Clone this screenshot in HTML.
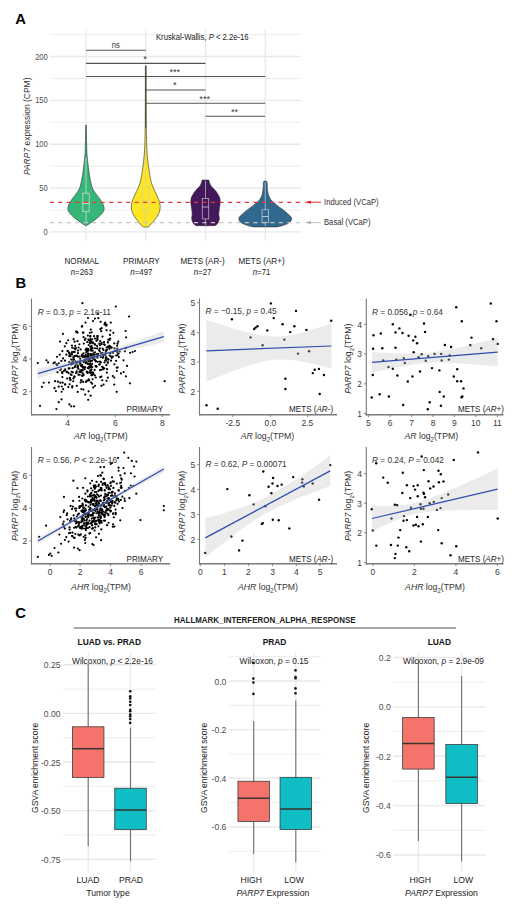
<!DOCTYPE html>
<html><head><meta charset="utf-8"><style>
html,body{margin:0;padding:0;background:#fff;width:520px;height:915px;overflow:hidden}
svg{display:block;font-family:"Liberation Sans", sans-serif}
</style></head><body>
<svg width="520" height="915" viewBox="0 0 520 915">
<rect width="520" height="915" fill="#fff"/>
<text transform="translate(15.3,23.6) scale(1,1)" font-size="14.8" fill="#000" text-anchor="start" font-weight="bold" font-style="normal" >A</text>
<text transform="translate(15.6,287.7) scale(1,1)" font-size="14.8" fill="#000" text-anchor="start" font-weight="bold" font-style="normal" >B</text>
<text transform="translate(15.3,618.3) scale(1,1)" font-size="14.8" fill="#000" text-anchor="start" font-weight="bold" font-style="normal" >C</text>
<line x1="50" y1="209.97" x2="301" y2="209.97" stroke="#e9e9e9" stroke-width="0.8" />
<line x1="50" y1="166.12" x2="301" y2="166.12" stroke="#e9e9e9" stroke-width="0.8" />
<line x1="50" y1="122.28" x2="301" y2="122.28" stroke="#e9e9e9" stroke-width="0.8" />
<line x1="50" y1="78.43" x2="301" y2="78.43" stroke="#e9e9e9" stroke-width="0.8" />
<line x1="50" y1="34.58" x2="301" y2="34.58" stroke="#e9e9e9" stroke-width="0.8" />
<line x1="50" y1="231.9" x2="301" y2="231.9" stroke="#e8e8e8" stroke-width="1.4" />
<line x1="50" y1="188.05" x2="301" y2="188.05" stroke="#e8e8e8" stroke-width="1.4" />
<line x1="50" y1="144.2" x2="301" y2="144.2" stroke="#e8e8e8" stroke-width="1.4" />
<line x1="50" y1="100.35" x2="301" y2="100.35" stroke="#e8e8e8" stroke-width="1.4" />
<line x1="50" y1="56.5" x2="301" y2="56.5" stroke="#e8e8e8" stroke-width="1.4" />
<line x1="86" y1="29.5" x2="86" y2="240.8" stroke="#e8e8e8" stroke-width="1.3" />
<line x1="145.75" y1="29.5" x2="145.75" y2="240.8" stroke="#e8e8e8" stroke-width="1.3" />
<line x1="205.5" y1="29.5" x2="205.5" y2="240.8" stroke="#e8e8e8" stroke-width="1.3" />
<line x1="265.25" y1="29.5" x2="265.25" y2="240.8" stroke="#e8e8e8" stroke-width="1.3" />
<text transform="translate(47.8,234.9) scale(1,1.12)" font-size="7.6" fill="#4d4d4d" text-anchor="end" font-weight="normal" font-style="normal" >0</text>
<text transform="translate(47.8,191.05) scale(1,1.12)" font-size="7.6" fill="#4d4d4d" text-anchor="end" font-weight="normal" font-style="normal" >50</text>
<text transform="translate(47.8,147.2) scale(1,1.12)" font-size="7.6" fill="#4d4d4d" text-anchor="end" font-weight="normal" font-style="normal" >100</text>
<text transform="translate(47.8,103.35) scale(1,1.12)" font-size="7.6" fill="#4d4d4d" text-anchor="end" font-weight="normal" font-style="normal" >150</text>
<text transform="translate(47.8,59.5) scale(1,1.12)" font-size="7.6" fill="#4d4d4d" text-anchor="end" font-weight="normal" font-style="normal" >200</text>
<text transform="translate(29.6,126.3) rotate(-90)" font-size="8.5" fill="#333" text-anchor="middle"><tspan font-style="italic">PARP7</tspan> expression (CPM)</text>
<path d="M85.7,125 L85.67,126.7 L85.64,128.41 L85.61,130.11 L85.59,131.81 L85.56,133.52 L85.53,135.22 L85.5,136.92 L85.47,138.63 L85.44,140.33 L85.4,142.03 L85.36,143.74 L85.32,145.44 L85.28,147.14 L85.24,148.85 L85.19,150.55 L85.12,152.25 L85.02,153.96 L84.88,155.66 L84.73,157.36 L84.57,159.07 L84.39,160.77 L84.2,162.47 L84,164.18 L83.79,165.88 L83.59,167.58 L83.36,169.29 L83.12,170.99 L82.87,172.69 L82.6,174.4 L82.32,176.1 L82.04,177.81 L81.74,179.51 L81.42,181.21 L81.06,182.92 L80.68,184.62 L80.23,186.32 L79.63,188.03 L78.82,189.73 L77.84,191.43 L76.7,193.14 L75.41,194.84 L74.07,196.54 L72.74,198.25 L71.51,199.95 L70.41,201.65 L69.47,203.36 L68.68,205.06 L68.1,206.76 L67.85,208.47 L68.07,210.17 L68.84,211.87 L70.07,213.58 L71.66,215.28 L73.49,216.98 L75.55,218.69 L77.82,220.39 L80.27,222.09 L82.56,223.8 L85.5,225.5 L86.5,225.5 L89.44,223.8 L91.73,222.09 L94.18,220.39 L96.45,218.69 L98.51,216.98 L100.34,215.28 L101.93,213.58 L103.16,211.87 L103.93,210.17 L104.15,208.47 L103.9,206.76 L103.32,205.06 L102.53,203.36 L101.59,201.65 L100.49,199.95 L99.26,198.25 L97.93,196.54 L96.59,194.84 L95.3,193.14 L94.16,191.43 L93.18,189.73 L92.37,188.03 L91.77,186.32 L91.32,184.62 L90.94,182.92 L90.58,181.21 L90.26,179.51 L89.96,177.81 L89.68,176.1 L89.4,174.4 L89.13,172.69 L88.88,170.99 L88.64,169.29 L88.41,167.58 L88.21,165.88 L88,164.18 L87.8,162.47 L87.61,160.77 L87.43,159.07 L87.27,157.36 L87.12,155.66 L86.98,153.96 L86.88,152.25 L86.81,150.55 L86.76,148.85 L86.72,147.14 L86.68,145.44 L86.64,143.74 L86.6,142.03 L86.56,140.33 L86.53,138.63 L86.5,136.92 L86.47,135.22 L86.44,133.52 L86.41,131.81 L86.39,130.11 L86.36,128.41 L86.33,126.7 L86.3,125Z" fill="#35b779" stroke="#2b2b2b" stroke-width="0.6" stroke-linejoin="round"/>
<path d="M145.4,65.9 L145.4,68.63 L145.39,71.36 L145.39,74.09 L145.38,76.82 L145.38,79.55 L145.38,82.28 L145.37,85.01 L145.37,87.74 L145.36,90.47 L145.36,93.21 L145.36,95.94 L145.35,98.67 L145.34,101.4 L145.32,104.13 L145.31,106.86 L145.29,109.59 L145.27,112.32 L145.26,115.05 L145.24,117.78 L145.22,120.51 L145.21,123.24 L145.19,125.97 L145.17,128.7 L145.14,131.43 L145.09,134.16 L145.03,136.89 L144.95,139.62 L144.87,142.35 L144.79,145.08 L144.69,147.82 L144.55,150.55 L144.35,153.28 L144.11,156.01 L143.85,158.74 L143.59,161.47 L143.29,164.2 L142.93,166.93 L142.53,169.66 L142.11,172.39 L141.66,175.12 L141.18,177.85 L140.61,180.58 L139.9,183.31 L138.96,186.04 L137.81,188.77 L136.5,191.5 L135.17,194.23 L133.91,196.96 L132.81,199.69 L131.92,202.43 L131.39,205.16 L131.32,207.89 L131.77,210.62 L132.71,213.35 L134.12,216.08 L135.98,218.81 L138.19,221.54 L140.35,224.27 L143.15,227 L148.35,227 L151.15,224.27 L153.31,221.54 L155.52,218.81 L157.38,216.08 L158.79,213.35 L159.73,210.62 L160.18,207.89 L160.11,205.16 L159.58,202.43 L158.69,199.69 L157.59,196.96 L156.33,194.23 L155,191.5 L153.69,188.77 L152.54,186.04 L151.6,183.31 L150.89,180.58 L150.32,177.85 L149.84,175.12 L149.39,172.39 L148.97,169.66 L148.57,166.93 L148.21,164.2 L147.91,161.47 L147.65,158.74 L147.39,156.01 L147.15,153.28 L146.95,150.55 L146.81,147.82 L146.71,145.08 L146.63,142.35 L146.55,139.62 L146.47,136.89 L146.41,134.16 L146.36,131.43 L146.33,128.7 L146.31,125.97 L146.29,123.24 L146.28,120.51 L146.26,117.78 L146.24,115.05 L146.23,112.32 L146.21,109.59 L146.19,106.86 L146.18,104.13 L146.16,101.4 L146.15,98.67 L146.14,95.94 L146.14,93.21 L146.14,90.47 L146.13,87.74 L146.13,85.01 L146.12,82.28 L146.12,79.55 L146.12,76.82 L146.11,74.09 L146.11,71.36 L146.1,68.63 L146.1,65.9Z" fill="#fde725" stroke="#2b2b2b" stroke-width="0.6" stroke-linejoin="round"/>
<path d="M202.2,180.1 L201.95,180.87 L201.74,181.65 L201.5,182.42 L201.23,183.19 L200.94,183.96 L200.62,184.74 L200.22,185.51 L199.68,186.28 L199.02,187.06 L198.27,187.83 L197.5,188.6 L196.73,189.37 L195.98,190.15 L195.28,190.92 L194.68,191.69 L194.17,192.47 L193.7,193.24 L193.25,194.01 L192.79,194.78 L192.34,195.56 L191.91,196.33 L191.53,197.1 L191.26,197.88 L191.08,198.65 L190.97,199.42 L190.88,200.19 L190.81,200.97 L190.78,201.74 L190.8,202.51 L190.87,203.29 L190.95,204.06 L191.04,204.83 L191.13,205.61 L191.25,206.38 L191.37,207.15 L191.49,207.92 L191.61,208.7 L191.72,209.47 L191.82,210.24 L191.91,211.02 L192,211.79 L192.09,212.56 L192.16,213.33 L192.19,214.11 L192.16,214.88 L192.06,215.65 L191.92,216.43 L191.78,217.2 L191.69,217.97 L191.68,218.74 L191.79,219.52 L191.99,220.29 L192.23,221.06 L192.5,221.84 L192.83,222.61 L193.28,223.38 L193.99,224.15 L194.85,224.93 L196.5,225.7 L214.5,225.7 L216.15,224.93 L217.01,224.15 L217.72,223.38 L218.17,222.61 L218.5,221.84 L218.77,221.06 L219.01,220.29 L219.21,219.52 L219.32,218.74 L219.31,217.97 L219.22,217.2 L219.08,216.43 L218.94,215.65 L218.84,214.88 L218.81,214.11 L218.84,213.33 L218.91,212.56 L219,211.79 L219.09,211.02 L219.18,210.24 L219.28,209.47 L219.39,208.7 L219.51,207.92 L219.63,207.15 L219.75,206.38 L219.87,205.61 L219.96,204.83 L220.05,204.06 L220.13,203.29 L220.2,202.51 L220.22,201.74 L220.19,200.97 L220.12,200.19 L220.03,199.42 L219.92,198.65 L219.74,197.88 L219.47,197.1 L219.09,196.33 L218.66,195.56 L218.21,194.78 L217.75,194.01 L217.3,193.24 L216.83,192.47 L216.32,191.69 L215.72,190.92 L215.02,190.15 L214.27,189.37 L213.5,188.6 L212.73,187.83 L211.98,187.06 L211.32,186.28 L210.78,185.51 L210.38,184.74 L210.06,183.96 L209.77,183.19 L209.5,182.42 L209.26,181.65 L209.05,180.87 L208.8,180.1Z" fill="#43195b" stroke="#2b2b2b" stroke-width="0.6" stroke-linejoin="round"/>
<path d="M264.25,181 L263.65,181.78 L263.43,182.56 L263.31,183.33 L263.28,184.11 L263.26,184.89 L263.24,185.67 L263.22,186.45 L263.19,187.22 L263.16,188 L263.1,188.78 L263.01,189.56 L262.9,190.34 L262.77,191.11 L262.65,191.89 L262.52,192.67 L262.4,193.45 L262.24,194.23 L262.03,195 L261.73,195.78 L261.37,196.56 L260.98,197.34 L260.59,198.12 L260.17,198.89 L259.67,199.67 L259.02,200.45 L258.24,201.23 L257.38,202.01 L256.51,202.78 L255.62,203.56 L254.72,204.34 L253.77,205.12 L252.76,205.89 L251.71,206.67 L250.64,207.45 L249.58,208.23 L248.52,209.01 L247.5,209.78 L246.52,210.56 L245.57,211.34 L244.65,212.12 L243.73,212.9 L242.82,213.67 L241.94,214.45 L241.1,215.23 L240.32,216.01 L239.62,216.79 L239.08,217.56 L238.82,218.34 L238.87,219.12 L239.13,219.9 L239.46,220.68 L239.9,221.45 L240.6,222.23 L241.72,223.01 L243.21,223.79 L245.05,224.57 L247.29,225.34 L249.67,226.12 L253.25,226.9 L277.25,226.9 L280.83,226.12 L283.21,225.34 L285.45,224.57 L287.29,223.79 L288.78,223.01 L289.9,222.23 L290.6,221.45 L291.04,220.68 L291.37,219.9 L291.63,219.12 L291.68,218.34 L291.42,217.56 L290.88,216.79 L290.18,216.01 L289.4,215.23 L288.56,214.45 L287.68,213.67 L286.77,212.9 L285.85,212.12 L284.93,211.34 L283.98,210.56 L283,209.78 L281.98,209.01 L280.92,208.23 L279.86,207.45 L278.79,206.67 L277.74,205.89 L276.73,205.12 L275.78,204.34 L274.88,203.56 L273.99,202.78 L273.12,202.01 L272.26,201.23 L271.48,200.45 L270.83,199.67 L270.33,198.89 L269.91,198.12 L269.52,197.34 L269.13,196.56 L268.77,195.78 L268.47,195 L268.26,194.23 L268.1,193.45 L267.98,192.67 L267.85,191.89 L267.73,191.11 L267.6,190.34 L267.49,189.56 L267.4,188.78 L267.34,188 L267.31,187.22 L267.28,186.45 L267.26,185.67 L267.24,184.89 L267.22,184.11 L267.19,183.33 L267.07,182.56 L266.85,181.78 L266.25,181Z" fill="#31688e" stroke="#2b2b2b" stroke-width="0.6" stroke-linejoin="round"/>
<line x1="86" y1="157.7" x2="86" y2="193.2" stroke="#cfd8d0" stroke-width="0.8" />
<line x1="86" y1="211.7" x2="86" y2="223" stroke="#cfd8d0" stroke-width="0.8" />
<rect x="82.8" y="193.2" width="6.4" height="18.5" fill="none" stroke="#cfd8d0" stroke-width="0.8"/>
<line x1="82.8" y1="203.5" x2="89.2" y2="203.5" stroke="#cfd8d0" stroke-width="1" />
<line x1="145.75" y1="150" x2="145.75" y2="186.6" stroke="#d6cf90" stroke-width="0.8" />
<line x1="145.75" y1="211.1" x2="145.75" y2="226" stroke="#d6cf90" stroke-width="0.8" />
<rect x="142.55" y="186.6" width="6.4" height="24.5" fill="none" stroke="#d6cf90" stroke-width="0.8"/>
<line x1="142.55" y1="201" x2="148.95" y2="201" stroke="#d6cf90" stroke-width="1" />
<line x1="205.5" y1="180.5" x2="205.5" y2="198.4" stroke="#b9a9c4" stroke-width="0.8" />
<line x1="205.5" y1="218.9" x2="205.5" y2="225" stroke="#b9a9c4" stroke-width="0.8" />
<rect x="202.3" y="198.4" width="6.4" height="20.5" fill="none" stroke="#b9a9c4" stroke-width="0.8"/>
<line x1="202.3" y1="207" x2="208.7" y2="207" stroke="#b9a9c4" stroke-width="1" />
<line x1="265.25" y1="182" x2="265.25" y2="209.75" stroke="#b9c6d3" stroke-width="0.8" />
<line x1="265.25" y1="222.5" x2="265.25" y2="226.5" stroke="#b9c6d3" stroke-width="0.8" />
<rect x="262.05" y="209.75" width="6.4" height="12.75" fill="none" stroke="#b9c6d3" stroke-width="0.8"/>
<line x1="262.05" y1="216.5" x2="268.45" y2="216.5" stroke="#b9c6d3" stroke-width="1" />
<line x1="49.8" y1="202.3" x2="301" y2="202.3" stroke="#ec3437" stroke-width="1.3" stroke-dasharray="4.1 4.38"/>
<line x1="49.8" y1="222.7" x2="301" y2="222.7" stroke="#c6c6c6" stroke-width="1.3" stroke-dasharray="4.1 4.38"/>
<line x1="308" y1="202.2" x2="321" y2="202.2" stroke="#ea1c24" stroke-width="0.95" />
<path d="M304,202.2 L311,200.7 L311,203.7 Z" fill="#ea1c24"/>
<line x1="308" y1="222.6" x2="321" y2="222.6" stroke="#b3b3b3" stroke-width="0.85" />
<path d="M305,222.6 L311,221.1 L311,224.1 Z" fill="#a8a8a8"/>
<text transform="translate(324,204.6) scale(1,1.12)" font-size="7.7" fill="#333" text-anchor="start" font-weight="normal" font-style="normal" >Induced (VCaP)</text>
<text transform="translate(324,225.4) scale(1,1.12)" font-size="7.7" fill="#333" text-anchor="start" font-weight="normal" font-style="normal" >Basal (VCaP)</text>
<line x1="86" y1="50.2" x2="145.75" y2="50.2" stroke="#555" stroke-width="1.1" />
<text transform="translate(115.88,48) scale(1,1.12)" font-size="7.7" fill="#333" text-anchor="middle" font-weight="normal" font-style="normal" >ns</text>
<line x1="86" y1="63.4" x2="205.5" y2="63.4" stroke="#555" stroke-width="1.1" />
<text transform="translate(144.95,61.9) scale(1,1.0)" font-size="9.2" fill="#333" text-anchor="middle" font-weight="normal" font-style="normal" >*</text>
<line x1="86" y1="76.5" x2="265.25" y2="76.5" stroke="#555" stroke-width="1.1" />
<text transform="translate(174.82,74.9) scale(1,1.0)" font-size="9.2" fill="#333" text-anchor="middle" font-weight="normal" font-style="normal" >***</text>
<line x1="145.75" y1="90" x2="205.5" y2="90" stroke="#555" stroke-width="1.1" />
<text transform="translate(174.82,88.4) scale(1,1.0)" font-size="9.2" fill="#333" text-anchor="middle" font-weight="normal" font-style="normal" >*</text>
<line x1="145.75" y1="103.2" x2="265.25" y2="103.2" stroke="#555" stroke-width="1.1" />
<text transform="translate(204.7,101.6) scale(1,1.0)" font-size="9.2" fill="#333" text-anchor="middle" font-weight="normal" font-style="normal" >***</text>
<line x1="205.5" y1="116.3" x2="265.25" y2="116.3" stroke="#555" stroke-width="1.1" />
<text transform="translate(234.57,114.7) scale(1,1.0)" font-size="9.2" fill="#333" text-anchor="middle" font-weight="normal" font-style="normal" >**</text>
<line x1="145.75" y1="65.9" x2="145.75" y2="128" stroke="#3a3a3a" stroke-width="0.8" />
<text transform="translate(156,40.2) scale(1,1.12)" font-size="7.7" fill="#222" text-anchor="start" font-weight="normal" font-style="normal" >Kruskal-Wallis, <tspan font-style="italic">P</tspan> &lt; 2.2e-16</text>
<text transform="translate(81.8,264.4) scale(1,1.12)" font-size="8.1" fill="#222" text-anchor="middle" font-weight="normal" font-style="normal" >NORMAL</text>
<text transform="translate(81.8,274.8) scale(1,1.12)" font-size="7.9" fill="#222" text-anchor="middle" font-weight="normal" font-style="normal" ><tspan font-style="italic">n</tspan>=263</text>
<text transform="translate(141.4,264.4) scale(1,1.12)" font-size="8.1" fill="#222" text-anchor="middle" font-weight="normal" font-style="normal" >PRIMARY</text>
<text transform="translate(141.4,274.8) scale(1,1.12)" font-size="7.9" fill="#222" text-anchor="middle" font-weight="normal" font-style="normal" ><tspan font-style="italic">n</tspan>=497</text>
<text transform="translate(202.6,264.4) scale(1,1.12)" font-size="8.1" fill="#222" text-anchor="middle" font-weight="normal" font-style="normal" >METS (AR-)</text>
<text transform="translate(202.6,274.8) scale(1,1.12)" font-size="7.9" fill="#222" text-anchor="middle" font-weight="normal" font-style="normal" ><tspan font-style="italic">n</tspan>=27</text>
<text transform="translate(261.6,264.4) scale(1,1.12)" font-size="8.1" fill="#222" text-anchor="middle" font-weight="normal" font-style="normal" >METS (AR+)</text>
<text transform="translate(261.6,274.8) scale(1,1.12)" font-size="7.9" fill="#222" text-anchor="middle" font-weight="normal" font-style="normal" ><tspan font-style="italic">n</tspan>=71</text>
<g fill="#000"><circle cx="91.37" cy="369.27" r="1.1"/><circle cx="96.48" cy="366.51" r="1.1"/><circle cx="86.64" cy="350.23" r="1.1"/><circle cx="76.06" cy="373.02" r="1.1"/><circle cx="83.54" cy="353.36" r="1.1"/><circle cx="74.32" cy="376.7" r="1.1"/><circle cx="92.38" cy="374.92" r="1.1"/><circle cx="114.36" cy="377.61" r="1.1"/><circle cx="82.9" cy="332.56" r="1.1"/><circle cx="80.7" cy="365.26" r="1.1"/><circle cx="99.76" cy="351.36" r="1.1"/><circle cx="97.48" cy="356.07" r="1.1"/><circle cx="93.16" cy="354.53" r="1.1"/><circle cx="75.37" cy="361.39" r="1.1"/><circle cx="90.85" cy="329.53" r="1.1"/><circle cx="103.29" cy="369.17" r="1.1"/><circle cx="68.27" cy="387.09" r="1.1"/><circle cx="83.49" cy="374.6" r="1.1"/><circle cx="58.7" cy="386.64" r="1.1"/><circle cx="69.21" cy="352.96" r="1.1"/><circle cx="59.72" cy="354.67" r="1.1"/><circle cx="87.31" cy="372.73" r="1.1"/><circle cx="69.59" cy="384.25" r="1.1"/><circle cx="96.01" cy="361.26" r="1.1"/><circle cx="94.04" cy="336.19" r="1.1"/><circle cx="88.14" cy="399.79" r="1.1"/><circle cx="48.13" cy="362.4" r="1.1"/><circle cx="82.1" cy="375.95" r="1.1"/><circle cx="90.52" cy="342.38" r="1.1"/><circle cx="93.3" cy="372.68" r="1.1"/><circle cx="65.07" cy="369.34" r="1.1"/><circle cx="83.15" cy="381.96" r="1.1"/><circle cx="74.55" cy="376.72" r="1.1"/><circle cx="77.46" cy="341.14" r="1.1"/><circle cx="109.57" cy="340" r="1.1"/><circle cx="77.48" cy="367.4" r="1.1"/><circle cx="90.79" cy="370.37" r="1.1"/><circle cx="106.54" cy="380.77" r="1.1"/><circle cx="81.33" cy="366.15" r="1.1"/><circle cx="89.43" cy="358.44" r="1.1"/><circle cx="93.25" cy="358.09" r="1.1"/><circle cx="92.45" cy="358.47" r="1.1"/><circle cx="70.31" cy="380.09" r="1.1"/><circle cx="92.66" cy="358.01" r="1.1"/><circle cx="114.68" cy="351.12" r="1.1"/><circle cx="64.78" cy="346.28" r="1.1"/><circle cx="106.11" cy="325.65" r="1.1"/><circle cx="93.4" cy="358.83" r="1.1"/><circle cx="80.33" cy="371.92" r="1.1"/><circle cx="125.7" cy="348.26" r="1.1"/><circle cx="104.44" cy="362.49" r="1.1"/><circle cx="70.76" cy="374.39" r="1.1"/><circle cx="92.63" cy="357.9" r="1.1"/><circle cx="101.25" cy="369.83" r="1.1"/><circle cx="88.11" cy="349.47" r="1.1"/><circle cx="103.08" cy="355.49" r="1.1"/><circle cx="90.21" cy="354.08" r="1.1"/><circle cx="102.81" cy="356.73" r="1.1"/><circle cx="116.05" cy="360.83" r="1.1"/><circle cx="79.75" cy="374.76" r="1.1"/><circle cx="94.84" cy="359.88" r="1.1"/><circle cx="83.39" cy="367.82" r="1.1"/><circle cx="93.54" cy="353.34" r="1.1"/><circle cx="70.96" cy="363.48" r="1.1"/><circle cx="81.4" cy="380.36" r="1.1"/><circle cx="87.98" cy="357.42" r="1.1"/><circle cx="106.78" cy="372.6" r="1.1"/><circle cx="111.02" cy="360.69" r="1.1"/><circle cx="68.62" cy="368.43" r="1.1"/><circle cx="77.7" cy="391.92" r="1.1"/><circle cx="102.46" cy="352.8" r="1.1"/><circle cx="57.14" cy="365.27" r="1.1"/><circle cx="83.4" cy="362.08" r="1.1"/><circle cx="89.68" cy="364.14" r="1.1"/><circle cx="112.94" cy="356.55" r="1.1"/><circle cx="103.19" cy="368.28" r="1.1"/><circle cx="85.73" cy="363.03" r="1.1"/><circle cx="85.02" cy="367.4" r="1.1"/><circle cx="87.05" cy="357.33" r="1.1"/><circle cx="117.51" cy="367.41" r="1.1"/><circle cx="84" cy="356.12" r="1.1"/><circle cx="86.14" cy="356.85" r="1.1"/><circle cx="97.4" cy="357.72" r="1.1"/><circle cx="89.28" cy="364.48" r="1.1"/><circle cx="87.96" cy="350.3" r="1.1"/><circle cx="72.22" cy="387.51" r="1.1"/><circle cx="91.15" cy="350.71" r="1.1"/><circle cx="83.73" cy="356.09" r="1.1"/><circle cx="111.37" cy="347.36" r="1.1"/><circle cx="102.56" cy="348.48" r="1.1"/><circle cx="90.94" cy="367.14" r="1.1"/><circle cx="102.83" cy="357.85" r="1.1"/><circle cx="85.51" cy="349.78" r="1.1"/><circle cx="109.42" cy="345.77" r="1.1"/><circle cx="91.26" cy="354.41" r="1.1"/><circle cx="101.37" cy="376.72" r="1.1"/><circle cx="69.18" cy="356.04" r="1.1"/><circle cx="97.3" cy="338.48" r="1.1"/><circle cx="62.36" cy="351.12" r="1.1"/><circle cx="56.4" cy="364.27" r="1.1"/><circle cx="86.12" cy="381.84" r="1.1"/><circle cx="75.9" cy="348.12" r="1.1"/><circle cx="94.17" cy="358.75" r="1.1"/><circle cx="129.9" cy="383.28" r="1.1"/><circle cx="77.07" cy="356.08" r="1.1"/><circle cx="80.64" cy="382.49" r="1.1"/><circle cx="94.88" cy="375.43" r="1.1"/><circle cx="99.82" cy="364.25" r="1.1"/><circle cx="88.32" cy="339.61" r="1.1"/><circle cx="87.81" cy="363.91" r="1.1"/><circle cx="103.41" cy="349.89" r="1.1"/><circle cx="100.28" cy="329.11" r="1.1"/><circle cx="73.6" cy="339.22" r="1.1"/><circle cx="89.99" cy="359.34" r="1.1"/><circle cx="91.96" cy="360.79" r="1.1"/><circle cx="73.24" cy="381.27" r="1.1"/><circle cx="95.81" cy="366.31" r="1.1"/><circle cx="76.62" cy="355.5" r="1.1"/><circle cx="108.04" cy="346.69" r="1.1"/><circle cx="94.66" cy="354.82" r="1.1"/><circle cx="92.88" cy="342.35" r="1.1"/><circle cx="81.2" cy="371.75" r="1.1"/><circle cx="89.31" cy="358.84" r="1.1"/><circle cx="57.04" cy="356.77" r="1.1"/><circle cx="71.92" cy="354.55" r="1.1"/><circle cx="97.58" cy="339.85" r="1.1"/><circle cx="54.8" cy="362.34" r="1.1"/><circle cx="105.89" cy="357.68" r="1.1"/><circle cx="61.37" cy="360.92" r="1.1"/><circle cx="104.34" cy="368.32" r="1.1"/><circle cx="76.83" cy="385.78" r="1.1"/><circle cx="104.73" cy="344.95" r="1.1"/><circle cx="93.6" cy="357.57" r="1.1"/><circle cx="64.96" cy="360.65" r="1.1"/><circle cx="112.8" cy="376.05" r="1.1"/><circle cx="116.11" cy="355.5" r="1.1"/><circle cx="90.22" cy="366.56" r="1.1"/><circle cx="86.65" cy="371.5" r="1.1"/><circle cx="88.6" cy="391.36" r="1.1"/><circle cx="74.6" cy="367.27" r="1.1"/><circle cx="110.21" cy="338.68" r="1.1"/><circle cx="82.03" cy="354.56" r="1.1"/><circle cx="90.47" cy="366.51" r="1.1"/><circle cx="77.73" cy="361.65" r="1.1"/><circle cx="80.6" cy="349.46" r="1.1"/><circle cx="69.41" cy="404.43" r="1.1"/><circle cx="112.94" cy="352.89" r="1.1"/><circle cx="88.7" cy="350.22" r="1.1"/><circle cx="107.94" cy="342.51" r="1.1"/><circle cx="91.58" cy="332.36" r="1.1"/><circle cx="79.43" cy="344.25" r="1.1"/><circle cx="85.74" cy="354.48" r="1.1"/><circle cx="81.73" cy="355.81" r="1.1"/><circle cx="91.49" cy="345.82" r="1.1"/><circle cx="84.91" cy="367.24" r="1.1"/><circle cx="86.2" cy="359.52" r="1.1"/><circle cx="67.68" cy="351.07" r="1.1"/><circle cx="77.49" cy="332.74" r="1.1"/><circle cx="119.75" cy="351.4" r="1.1"/><circle cx="79.82" cy="361.52" r="1.1"/><circle cx="73.25" cy="359.83" r="1.1"/><circle cx="97.14" cy="335.98" r="1.1"/><circle cx="115.52" cy="350.75" r="1.1"/><circle cx="66.38" cy="343.18" r="1.1"/><circle cx="87.77" cy="372.67" r="1.1"/><circle cx="80.5" cy="363.35" r="1.1"/><circle cx="61.11" cy="369.23" r="1.1"/><circle cx="103.97" cy="342.15" r="1.1"/><circle cx="90.95" cy="342.18" r="1.1"/><circle cx="92.58" cy="379.23" r="1.1"/><circle cx="78.43" cy="374.67" r="1.1"/><circle cx="99.16" cy="350.17" r="1.1"/><circle cx="82.09" cy="369.82" r="1.1"/><circle cx="88.9" cy="380.51" r="1.1"/><circle cx="72.32" cy="347.76" r="1.1"/><circle cx="70.47" cy="356.31" r="1.1"/><circle cx="114.28" cy="343.42" r="1.1"/><circle cx="82.64" cy="366.97" r="1.1"/><circle cx="96.36" cy="340.83" r="1.1"/><circle cx="90.77" cy="361.11" r="1.1"/><circle cx="83.77" cy="343.54" r="1.1"/><circle cx="82.63" cy="373.38" r="1.1"/><circle cx="102.17" cy="366.78" r="1.1"/><circle cx="86.17" cy="355.94" r="1.1"/><circle cx="88.75" cy="368.5" r="1.1"/><circle cx="91.73" cy="347.38" r="1.1"/><circle cx="111.55" cy="347.65" r="1.1"/><circle cx="103.04" cy="367.54" r="1.1"/><circle cx="97.92" cy="354.41" r="1.1"/><circle cx="81.67" cy="365.43" r="1.1"/><circle cx="67.62" cy="350.95" r="1.1"/><circle cx="107.66" cy="361.91" r="1.1"/><circle cx="107.95" cy="358.99" r="1.1"/><circle cx="88.93" cy="340.33" r="1.1"/><circle cx="100.66" cy="321.79" r="1.1"/><circle cx="104.77" cy="324.1" r="1.1"/><circle cx="105.62" cy="352.29" r="1.1"/><circle cx="107.17" cy="349.55" r="1.1"/><circle cx="83.53" cy="337.19" r="1.1"/><circle cx="117.37" cy="351.59" r="1.1"/><circle cx="69.94" cy="378.06" r="1.1"/><circle cx="106.15" cy="351.34" r="1.1"/><circle cx="99.83" cy="348.29" r="1.1"/><circle cx="106.35" cy="365.18" r="1.1"/><circle cx="123.62" cy="372.11" r="1.1"/><circle cx="116.84" cy="371.02" r="1.1"/><circle cx="71.69" cy="353.43" r="1.1"/><circle cx="62.35" cy="377.09" r="1.1"/><circle cx="105.38" cy="355.37" r="1.1"/><circle cx="73.92" cy="359.42" r="1.1"/><circle cx="91.14" cy="348.38" r="1.1"/><circle cx="105.77" cy="358.09" r="1.1"/><circle cx="63.12" cy="358.4" r="1.1"/><circle cx="55.12" cy="381.16" r="1.1"/><circle cx="95.8" cy="361.42" r="1.1"/><circle cx="92.11" cy="372.24" r="1.1"/><circle cx="87.13" cy="342.03" r="1.1"/><circle cx="92.01" cy="357.62" r="1.1"/><circle cx="76.57" cy="372.63" r="1.1"/><circle cx="65.36" cy="370.24" r="1.1"/><circle cx="88.49" cy="361.52" r="1.1"/><circle cx="74.66" cy="352.04" r="1.1"/><circle cx="63.13" cy="389.17" r="1.1"/><circle cx="100.03" cy="370.1" r="1.1"/><circle cx="90.3" cy="363.28" r="1.1"/><circle cx="98.33" cy="318.16" r="1.1"/><circle cx="74.36" cy="348.38" r="1.1"/><circle cx="80.05" cy="362.38" r="1.1"/><circle cx="74.19" cy="352.01" r="1.1"/><circle cx="76.12" cy="331.67" r="1.1"/><circle cx="94.71" cy="359.86" r="1.1"/><circle cx="77.9" cy="366.76" r="1.1"/><circle cx="97.46" cy="337.81" r="1.1"/><circle cx="97.18" cy="348.44" r="1.1"/><circle cx="126.13" cy="337.32" r="1.1"/><circle cx="67.43" cy="371.92" r="1.1"/><circle cx="106.6" cy="324.66" r="1.1"/><circle cx="89.81" cy="332.75" r="1.1"/><circle cx="91.11" cy="349.17" r="1.1"/><circle cx="66.45" cy="354.69" r="1.1"/><circle cx="83.45" cy="389.53" r="1.1"/><circle cx="104.11" cy="344.29" r="1.1"/><circle cx="89.93" cy="360.69" r="1.1"/><circle cx="92.74" cy="350.63" r="1.1"/><circle cx="86.36" cy="348.86" r="1.1"/><circle cx="111.18" cy="356.6" r="1.1"/><circle cx="90.98" cy="382.36" r="1.1"/><circle cx="53.56" cy="363.13" r="1.1"/><circle cx="79.47" cy="371.81" r="1.1"/><circle cx="57.54" cy="372.22" r="1.1"/><circle cx="43.65" cy="382.73" r="1.1"/><circle cx="82.25" cy="365.12" r="1.1"/><circle cx="114.25" cy="384.61" r="1.1"/><circle cx="92.16" cy="339.3" r="1.1"/><circle cx="71.22" cy="359.62" r="1.1"/><circle cx="75.2" cy="345.84" r="1.1"/><circle cx="110.76" cy="322.61" r="1.1"/><circle cx="94.06" cy="356.29" r="1.1"/><circle cx="92.17" cy="383.66" r="1.1"/><circle cx="90.43" cy="370.82" r="1.1"/><circle cx="92.01" cy="374.96" r="1.1"/><circle cx="105.18" cy="360.72" r="1.1"/><circle cx="100.84" cy="353.45" r="1.1"/><circle cx="95.05" cy="385.74" r="1.1"/><circle cx="73.44" cy="357.66" r="1.1"/><circle cx="100.13" cy="377.03" r="1.1"/><circle cx="79.6" cy="356.51" r="1.1"/><circle cx="110.13" cy="353.5" r="1.1"/><circle cx="69.52" cy="368.45" r="1.1"/><circle cx="88.99" cy="359.19" r="1.1"/><circle cx="91.22" cy="365.39" r="1.1"/><circle cx="68.6" cy="373.11" r="1.1"/><circle cx="120.92" cy="373.44" r="1.1"/><circle cx="116.43" cy="350.47" r="1.1"/><circle cx="83.39" cy="332.65" r="1.1"/><circle cx="104.6" cy="324.42" r="1.1"/><circle cx="97.85" cy="336.08" r="1.1"/><circle cx="46.47" cy="360.26" r="1.1"/><circle cx="95.65" cy="366.09" r="1.1"/><circle cx="90.3" cy="336.53" r="1.1"/><circle cx="92.78" cy="357.82" r="1.1"/><circle cx="72.86" cy="363.87" r="1.1"/><circle cx="86.72" cy="363.06" r="1.1"/><circle cx="88.29" cy="356.97" r="1.1"/><circle cx="111.75" cy="357.81" r="1.1"/><circle cx="97.09" cy="356.96" r="1.1"/><circle cx="91.25" cy="373.38" r="1.1"/><circle cx="117.61" cy="355.18" r="1.1"/><circle cx="81.82" cy="326.72" r="1.1"/><circle cx="84.66" cy="360.41" r="1.1"/><circle cx="60.15" cy="370.11" r="1.1"/><circle cx="118.29" cy="341.66" r="1.1"/><circle cx="107.91" cy="342.14" r="1.1"/><circle cx="107.09" cy="369.15" r="1.1"/><circle cx="102.84" cy="357.08" r="1.1"/><circle cx="93.24" cy="343.37" r="1.1"/><circle cx="95.05" cy="352.36" r="1.1"/><circle cx="87.02" cy="356.9" r="1.1"/><circle cx="87.85" cy="335.61" r="1.1"/><circle cx="92.28" cy="367.1" r="1.1"/><circle cx="117.31" cy="348.56" r="1.1"/><circle cx="100.89" cy="362.25" r="1.1"/><circle cx="90.35" cy="335.82" r="1.1"/><circle cx="81.4" cy="389.02" r="1.1"/><circle cx="80.45" cy="370.47" r="1.1"/><circle cx="118.87" cy="357.09" r="1.1"/><circle cx="100.05" cy="345.11" r="1.1"/><circle cx="92.51" cy="348.17" r="1.1"/><circle cx="85.41" cy="338.67" r="1.1"/><circle cx="72.31" cy="386.15" r="1.1"/><circle cx="90.2" cy="346.73" r="1.1"/><circle cx="106.35" cy="357.31" r="1.1"/><circle cx="84.61" cy="369.18" r="1.1"/><circle cx="87.45" cy="350.64" r="1.1"/><circle cx="87.55" cy="372.05" r="1.1"/><circle cx="93.23" cy="387.38" r="1.1"/><circle cx="63.99" cy="370.91" r="1.1"/><circle cx="87.31" cy="380.61" r="1.1"/><circle cx="76.68" cy="371.27" r="1.1"/><circle cx="106.54" cy="347.49" r="1.1"/><circle cx="78.12" cy="356.73" r="1.1"/><circle cx="101.26" cy="331.19" r="1.1"/><circle cx="117.53" cy="352.65" r="1.1"/><circle cx="85.96" cy="381.53" r="1.1"/><circle cx="81.02" cy="371.57" r="1.1"/><circle cx="94.64" cy="369.96" r="1.1"/><circle cx="91.32" cy="375.32" r="1.1"/><circle cx="74.29" cy="356.04" r="1.1"/><circle cx="99.26" cy="364.57" r="1.1"/><circle cx="125.96" cy="376.28" r="1.1"/><circle cx="86.92" cy="348.48" r="1.1"/><circle cx="87.87" cy="360.08" r="1.1"/><circle cx="73.41" cy="357.46" r="1.1"/><circle cx="96.83" cy="354.25" r="1.1"/><circle cx="69.94" cy="354.44" r="1.1"/><circle cx="72.34" cy="362.45" r="1.1"/><circle cx="113.32" cy="332.79" r="1.1"/><circle cx="75.8" cy="355.75" r="1.1"/><circle cx="109.92" cy="346.19" r="1.1"/><circle cx="117.53" cy="343.69" r="1.1"/><circle cx="95.8" cy="377.51" r="1.1"/><circle cx="100.85" cy="357.04" r="1.1"/><circle cx="124.87" cy="351.36" r="1.1"/><circle cx="87.97" cy="355.36" r="1.1"/><circle cx="81.17" cy="380.38" r="1.1"/><circle cx="68.11" cy="340.25" r="1.1"/><circle cx="92.07" cy="355.67" r="1.1"/><circle cx="116.75" cy="367.74" r="1.1"/><circle cx="107.83" cy="377.68" r="1.1"/><circle cx="75.17" cy="366.31" r="1.1"/><circle cx="76.66" cy="363.06" r="1.1"/><circle cx="82.69" cy="370.52" r="1.1"/><circle cx="96.37" cy="354.59" r="1.1"/><circle cx="87.82" cy="367.88" r="1.1"/><circle cx="95.03" cy="348.23" r="1.1"/><circle cx="96.45" cy="366.56" r="1.1"/><circle cx="86.22" cy="359.49" r="1.1"/><circle cx="90.66" cy="343.24" r="1.1"/><circle cx="94.9" cy="318.59" r="1.1"/><circle cx="89.91" cy="372.65" r="1.1"/><circle cx="100" cy="361.7" r="1.1"/><circle cx="123.48" cy="360.3" r="1.1"/><circle cx="101.52" cy="342.9" r="1.1"/><circle cx="92.31" cy="374" r="1.1"/><circle cx="62.4" cy="373.06" r="1.1"/><circle cx="98.01" cy="355.89" r="1.1"/><circle cx="57.92" cy="381.64" r="1.1"/><circle cx="67.15" cy="378.6" r="1.1"/><circle cx="106.03" cy="360.09" r="1.1"/><circle cx="103.48" cy="384.71" r="1.1"/><circle cx="88.78" cy="379.41" r="1.1"/><circle cx="61.99" cy="372.13" r="1.1"/><circle cx="84.97" cy="357.12" r="1.1"/><circle cx="79.69" cy="363.58" r="1.1"/><circle cx="102.29" cy="380.26" r="1.1"/><circle cx="130.12" cy="352.82" r="1.1"/><circle cx="95.08" cy="344.59" r="1.1"/><circle cx="77.97" cy="353.19" r="1.1"/><circle cx="71.25" cy="364.49" r="1.1"/><circle cx="90.39" cy="370.74" r="1.1"/><circle cx="88.31" cy="349.04" r="1.1"/><circle cx="71.58" cy="371.74" r="1.1"/><circle cx="93.35" cy="374.01" r="1.1"/><circle cx="71.59" cy="375.02" r="1.1"/><circle cx="110.45" cy="330.52" r="1.1"/><circle cx="109.6" cy="348.81" r="1.1"/><circle cx="109.98" cy="334.9" r="1.1"/><circle cx="83.21" cy="366.86" r="1.1"/><circle cx="100.19" cy="341.03" r="1.1"/><circle cx="89.08" cy="366.92" r="1.1"/><circle cx="84.67" cy="361.7" r="1.1"/><circle cx="85.53" cy="322.6" r="1.1"/><circle cx="69.03" cy="352.72" r="1.1"/><circle cx="66.56" cy="372.08" r="1.1"/><circle cx="104.99" cy="354.65" r="1.1"/><circle cx="88.07" cy="353.59" r="1.1"/><circle cx="95.07" cy="338.54" r="1.1"/><circle cx="108.55" cy="359.54" r="1.1"/><circle cx="61.59" cy="391.76" r="1.1"/><circle cx="77.88" cy="365.49" r="1.1"/><circle cx="94.36" cy="356.31" r="1.1"/><circle cx="98.08" cy="353.83" r="1.1"/><circle cx="84.87" cy="339.98" r="1.1"/><circle cx="109.02" cy="347.56" r="1.1"/><circle cx="94.96" cy="344.41" r="1.1"/><circle cx="70.51" cy="379.73" r="1.1"/><circle cx="75.37" cy="349.37" r="1.1"/><circle cx="105.18" cy="322.55" r="1.1"/><circle cx="99.31" cy="343.72" r="1.1"/><circle cx="58.74" cy="363.29" r="1.1"/><circle cx="114.49" cy="348.34" r="1.1"/><circle cx="101.62" cy="328.14" r="1.1"/><circle cx="114.42" cy="364.25" r="1.1"/><circle cx="84.76" cy="360.99" r="1.1"/><circle cx="86.27" cy="352.15" r="1.1"/><circle cx="72.01" cy="352.18" r="1.1"/><circle cx="134.91" cy="351.02" r="1.1"/><circle cx="88.34" cy="353.79" r="1.1"/><circle cx="118.61" cy="353.48" r="1.1"/><circle cx="80.23" cy="358.92" r="1.1"/><circle cx="94.16" cy="358.53" r="1.1"/><circle cx="62.65" cy="382.64" r="1.1"/><circle cx="84.78" cy="359.66" r="1.1"/><circle cx="108.24" cy="339.56" r="1.1"/><circle cx="69.86" cy="377.95" r="1.1"/><circle cx="109.76" cy="355.54" r="1.1"/><circle cx="97.14" cy="345.95" r="1.1"/><circle cx="73.42" cy="378.41" r="1.1"/><circle cx="82.74" cy="357.27" r="1.1"/><circle cx="83.47" cy="375.31" r="1.1"/><circle cx="90.5" cy="341" r="1.1"/><circle cx="82.14" cy="326.15" r="1.1"/><circle cx="77.14" cy="331.89" r="1.1"/><circle cx="86.12" cy="362.18" r="1.1"/><circle cx="73.72" cy="351.73" r="1.1"/><circle cx="69.21" cy="362.16" r="1.1"/><circle cx="90.52" cy="356.16" r="1.1"/><circle cx="106.51" cy="330.21" r="1.1"/><circle cx="65.09" cy="384.53" r="1.1"/><circle cx="91.41" cy="341.89" r="1.1"/><circle cx="80.19" cy="361.42" r="1.1"/><circle cx="74.57" cy="341.66" r="1.1"/><circle cx="106.01" cy="350.35" r="1.1"/><circle cx="82.45" cy="369.92" r="1.1"/><circle cx="117.08" cy="345.77" r="1.1"/><circle cx="77.96" cy="350.55" r="1.1"/><circle cx="97.99" cy="354.94" r="1.1"/><circle cx="87.45" cy="351.4" r="1.1"/><circle cx="78.4" cy="368.89" r="1.1"/><circle cx="101.44" cy="385.8" r="1.1"/><circle cx="88.69" cy="344.98" r="1.1"/><circle cx="101.71" cy="344.1" r="1.1"/><circle cx="90.54" cy="355.48" r="1.1"/><circle cx="72.7" cy="361.9" r="1.1"/><circle cx="89.6" cy="342.71" r="1.1"/><circle cx="92.24" cy="363.87" r="1.1"/><circle cx="107.81" cy="362.95" r="1.1"/><circle cx="75.79" cy="364.77" r="1.1"/><circle cx="90.67" cy="340.15" r="1.1"/><circle cx="61.78" cy="386.5" r="1.1"/><circle cx="102.54" cy="336.61" r="1.1"/><circle cx="72.78" cy="372.28" r="1.1"/><circle cx="60.33" cy="382.72" r="1.1"/><circle cx="90.33" cy="339.2" r="1.1"/><circle cx="110.34" cy="353.25" r="1.1"/><circle cx="65.17" cy="384.23" r="1.1"/><circle cx="72.67" cy="368.19" r="1.1"/><circle cx="78.59" cy="347.49" r="1.1"/><circle cx="71.95" cy="345.61" r="1.1"/><circle cx="97.87" cy="361.77" r="1.1"/><circle cx="37.8" cy="363.1" r="1.1"/><circle cx="41.9" cy="386.8" r="1.1"/><circle cx="40" cy="405.8" r="1.1"/><circle cx="56.4" cy="409.1" r="1.1"/><circle cx="71.2" cy="406.3" r="1.1"/><circle cx="74" cy="406.3" r="1.1"/><circle cx="164.6" cy="381.2" r="1.1"/><circle cx="82.4" cy="303.2" r="1.1"/><circle cx="115.8" cy="306.5" r="1.1"/><circle cx="129" cy="316.5" r="1.1"/><circle cx="62.9" cy="333.8" r="1.1"/><circle cx="60.1" cy="341.6" r="1.1"/><circle cx="125.6" cy="331" r="1.1"/><circle cx="132.6" cy="352" r="1.1"/><circle cx="127" cy="365.9" r="1.1"/><circle cx="116.7" cy="391.8" r="1.1"/><circle cx="90.7" cy="395.7" r="1.1"/><circle cx="85.2" cy="394.6" r="1.1"/><circle cx="54.5" cy="388.2" r="1.1"/><circle cx="55.9" cy="391" r="1.1"/><circle cx="48.9" cy="382.6" r="1.1"/><circle cx="61.5" cy="399.4" r="1.1"/><circle cx="58.7" cy="402.2" r="1.1"/><circle cx="88" cy="318" r="1.1"/><circle cx="93" cy="321" r="1.1"/><circle cx="98" cy="314" r="1.1"/></g>
<path d="M37.8,368.5 L41.03,367.82 L44.26,367.13 L47.49,366.44 L50.72,365.75 L53.95,365.05 L57.18,364.34 L60.42,363.63 L63.65,362.91 L66.88,362.18 L70.11,361.44 L73.34,360.68 L76.57,359.9 L79.8,359.09 L83.03,358.26 L86.26,357.39 L89.49,356.47 L92.72,355.52 L95.95,354.55 L99.18,353.54 L102.42,352.51 L105.65,351.46 L108.88,350.39 L112.11,349.31 L115.34,348.21 L118.57,347.1 L121.8,345.98 L125.03,344.86 L128.26,343.72 L131.49,342.58 L134.72,341.44 L137.95,340.29 L141.18,339.14 L144.42,337.98 L147.65,336.82 L150.88,335.66 L154.11,334.5 L157.34,333.33 L160.57,332.17 L163.8,331 L163.8,342.2 L160.57,342.94 L157.34,343.67 L154.11,344.41 L150.88,345.15 L147.65,345.89 L144.42,346.64 L141.18,347.38 L137.95,348.13 L134.72,348.89 L131.49,349.64 L128.26,350.41 L125.03,351.17 L121.8,351.95 L118.57,352.73 L115.34,353.53 L112.11,354.33 L108.88,355.15 L105.65,355.98 L102.42,356.84 L99.18,357.71 L95.95,358.61 L92.72,359.53 L89.49,360.48 L86.26,361.48 L83.03,362.51 L79.8,363.57 L76.57,364.67 L73.34,365.79 L70.11,366.94 L66.88,368.09 L63.65,369.27 L60.42,370.45 L57.18,371.64 L53.95,372.84 L50.72,374.04 L47.49,375.25 L44.26,376.46 L41.03,377.68 L37.8,378.9Z" fill="#c6c6c6" fill-opacity="0.35"/>
<line x1="37.8" y1="373.7" x2="163.8" y2="336.6" stroke="#2f4dae" stroke-width="1.25" />
<line x1="31.5" y1="298.5" x2="31.5" y2="415.4" stroke="#777" stroke-width="1.1" />
<line x1="31" y1="414.8" x2="170" y2="414.8" stroke="#7a7a7a" stroke-width="1.4" />
<line x1="29.2" y1="391.7" x2="31.5" y2="391.7" stroke="#7a7a7a" stroke-width="0.9" />
<text transform="translate(27.2,395) scale(1,1.12)" font-size="8.5" fill="#3a3a3a" text-anchor="end" font-weight="normal" font-style="normal" >2</text>
<line x1="29.2" y1="359.05" x2="31.5" y2="359.05" stroke="#7a7a7a" stroke-width="0.9" />
<text transform="translate(27.2,362.35) scale(1,1.12)" font-size="8.5" fill="#3a3a3a" text-anchor="end" font-weight="normal" font-style="normal" >4</text>
<line x1="29.2" y1="326.4" x2="31.5" y2="326.4" stroke="#7a7a7a" stroke-width="0.9" />
<text transform="translate(27.2,329.7) scale(1,1.12)" font-size="8.5" fill="#3a3a3a" text-anchor="end" font-weight="normal" font-style="normal" >6</text>
<line x1="67.5" y1="414.8" x2="67.5" y2="417.1" stroke="#7a7a7a" stroke-width="0.9" />
<text transform="translate(67.5,426.2) scale(1,1.12)" font-size="8.5" fill="#3a3a3a" text-anchor="middle" font-weight="normal" font-style="normal" >4</text>
<line x1="115.3" y1="414.8" x2="115.3" y2="417.1" stroke="#7a7a7a" stroke-width="0.9" />
<text transform="translate(115.3,426.2) scale(1,1.12)" font-size="8.5" fill="#3a3a3a" text-anchor="middle" font-weight="normal" font-style="normal" >6</text>
<line x1="162.3" y1="414.8" x2="162.3" y2="417.1" stroke="#7a7a7a" stroke-width="0.9" />
<text transform="translate(162.3,426.2) scale(1,1.12)" font-size="8.5" fill="#3a3a3a" text-anchor="middle" font-weight="normal" font-style="normal" >8</text>
<text transform="translate(37.8,314.6) scale(1,1.12)" font-size="8.3" fill="#333" text-anchor="start" font-weight="normal" font-style="normal" ><tspan font-style="italic">R</tspan> = 0.3, <tspan font-style="italic">p</tspan> = 2.1e-11</text>
<text transform="translate(163.2,411.8) scale(1,1.12)" font-size="8.1" fill="#222" text-anchor="end" font-weight="normal" font-style="normal" >PRIMARY</text>
<text transform="translate(100.8,439.2) scale(1,1.12)" font-size="8.7" fill="#333" text-anchor="middle" font-weight="normal" font-style="normal" ><tspan font-style="italic">AR</tspan> log<tspan font-size="6.0" dy="2.5">2</tspan><tspan dy="-2.5">(TPM)</tspan></text>
<text transform="translate(17.8,358.6) rotate(-90)" font-size="8.8" fill="#333" text-anchor="middle"><tspan font-style="italic">PARP7</tspan> log<tspan font-size="6.1" dy="2.5">2</tspan><tspan dy="-2.5">(TPM)</tspan></text>
<g fill="#000"><circle cx="270.9" cy="303.4" r="1.2"/><circle cx="231.9" cy="319.3" r="1.2"/><circle cx="296" cy="310.9" r="1.2"/><circle cx="273.7" cy="318.1" r="1.2"/><circle cx="331.2" cy="320.7" r="1.2"/><circle cx="282.6" cy="324.3" r="1.2"/><circle cx="294.4" cy="326.2" r="1.2"/><circle cx="257.5" cy="326.2" r="1.2"/><circle cx="255.6" cy="327.6" r="1.2"/><circle cx="254.2" cy="329" r="1.2"/><circle cx="267.3" cy="330.4" r="1.2"/><circle cx="306.4" cy="329.9" r="1.2"/><circle cx="290.2" cy="332.1" r="1.2"/><circle cx="250.6" cy="337.4" r="1.2"/><circle cx="284.3" cy="339.6" r="1.2"/><circle cx="262.6" cy="345.2" r="1.2"/><circle cx="309.1" cy="351.3" r="1.2"/><circle cx="298" cy="353.6" r="1.2"/><circle cx="314.7" cy="369.7" r="1.2"/><circle cx="312.8" cy="373.1" r="1.2"/><circle cx="318.9" cy="368.9" r="1.2"/><circle cx="323.9" cy="375" r="1.2"/><circle cx="285.4" cy="378.7" r="1.2"/><circle cx="285.4" cy="389" r="1.2"/><circle cx="319.7" cy="394" r="1.2"/><circle cx="206.5" cy="405.2" r="1.2"/><circle cx="217.7" cy="408.8" r="1.2"/></g>
<path d="M206.3,319.8 L209.51,320.87 L212.72,321.93 L215.93,322.98 L219.14,324.03 L222.35,325.06 L225.56,326.07 L228.77,327.07 L231.98,328.05 L235.19,329.01 L238.4,329.95 L241.61,330.85 L244.82,331.72 L248.03,332.56 L251.24,333.34 L254.45,334.07 L257.66,334.73 L260.87,335.31 L264.08,335.8 L267.29,336.18 L270.51,336.45 L273.72,336.59 L276.93,336.58 L280.14,336.44 L283.35,336.18 L286.56,335.81 L289.77,335.33 L292.98,334.75 L296.19,334.09 L299.4,333.35 L302.61,332.54 L305.82,331.67 L309.03,330.75 L312.24,329.79 L315.45,328.79 L318.66,327.76 L321.87,326.7 L325.08,325.62 L328.29,324.52 L331.5,323.4 L331.5,368.6 L328.29,367.73 L325.08,366.87 L321.87,366.04 L318.66,365.22 L315.45,364.44 L312.24,363.69 L309.03,362.97 L305.82,362.3 L302.61,361.68 L299.4,361.12 L296.19,360.62 L292.98,360.2 L289.77,359.87 L286.56,359.64 L283.35,359.51 L280.14,359.5 L276.93,359.6 L273.72,359.84 L270.51,360.23 L267.29,360.74 L264.08,361.37 L260.87,362.11 L257.66,362.93 L254.45,363.84 L251.24,364.81 L248.03,365.84 L244.82,366.92 L241.61,368.04 L238.4,369.19 L235.19,370.37 L231.98,371.58 L228.77,372.81 L225.56,374.05 L222.35,375.31 L219.14,376.59 L215.93,377.88 L212.72,379.18 L209.51,380.48 L206.3,381.8Z" fill="#c6c6c6" fill-opacity="0.35"/>
<line x1="206.3" y1="350.8" x2="331.5" y2="346" stroke="#2f4dae" stroke-width="1.25" />
<line x1="199.5" y1="298.5" x2="199.5" y2="415.4" stroke="#777" stroke-width="1.1" />
<line x1="199" y1="414.8" x2="337" y2="414.8" stroke="#7a7a7a" stroke-width="1.4" />
<line x1="197.2" y1="391.4" x2="199.5" y2="391.4" stroke="#7a7a7a" stroke-width="0.9" />
<text transform="translate(195.2,394.7) scale(1,1.12)" font-size="8.5" fill="#3a3a3a" text-anchor="end" font-weight="normal" font-style="normal" >2</text>
<line x1="197.2" y1="362" x2="199.5" y2="362" stroke="#7a7a7a" stroke-width="0.9" />
<text transform="translate(195.2,365.3) scale(1,1.12)" font-size="8.5" fill="#3a3a3a" text-anchor="end" font-weight="normal" font-style="normal" >3</text>
<line x1="197.2" y1="332.6" x2="199.5" y2="332.6" stroke="#7a7a7a" stroke-width="0.9" />
<text transform="translate(195.2,335.9) scale(1,1.12)" font-size="8.5" fill="#3a3a3a" text-anchor="end" font-weight="normal" font-style="normal" >4</text>
<line x1="197.2" y1="302.8" x2="199.5" y2="302.8" stroke="#7a7a7a" stroke-width="0.9" />
<text transform="translate(195.2,306.1) scale(1,1.12)" font-size="8.5" fill="#3a3a3a" text-anchor="end" font-weight="normal" font-style="normal" >5</text>
<line x1="232.8" y1="414.8" x2="232.8" y2="417.1" stroke="#7a7a7a" stroke-width="0.9" />
<text transform="translate(232.8,426.2) scale(1,1.12)" font-size="8.5" fill="#3a3a3a" text-anchor="middle" font-weight="normal" font-style="normal" >-2.5</text>
<line x1="270.4" y1="414.8" x2="270.4" y2="417.1" stroke="#7a7a7a" stroke-width="0.9" />
<text transform="translate(270.4,426.2) scale(1,1.12)" font-size="8.5" fill="#3a3a3a" text-anchor="middle" font-weight="normal" font-style="normal" >0.0</text>
<line x1="307.4" y1="414.8" x2="307.4" y2="417.1" stroke="#7a7a7a" stroke-width="0.9" />
<text transform="translate(307.4,426.2) scale(1,1.12)" font-size="8.5" fill="#3a3a3a" text-anchor="middle" font-weight="normal" font-style="normal" >2.5</text>
<text transform="translate(205.5,314.4) scale(1,1.12)" font-size="8.3" fill="#333" text-anchor="start" font-weight="normal" font-style="normal" ><tspan font-style="italic">R</tspan> = −0.15, <tspan font-style="italic">p</tspan> = 0.45</text>
<text transform="translate(333.1,411.8) scale(1,1.12)" font-size="8.1" fill="#222" text-anchor="end" font-weight="normal" font-style="normal" >METS (<tspan font-style="italic">AR</tspan>-)</text>
<text transform="translate(267.4,439.2) scale(1,1.12)" font-size="8.7" fill="#333" text-anchor="middle" font-weight="normal" font-style="normal" ><tspan font-style="italic">AR</tspan> log<tspan font-size="6.0" dy="2.5">2</tspan><tspan dy="-2.5">(TPM)</tspan></text>
<text transform="translate(185.2,358.6) rotate(-90)" font-size="8.8" fill="#333" text-anchor="middle"><tspan font-style="italic">PARP7</tspan> log<tspan font-size="6.1" dy="2.5">2</tspan><tspan dy="-2.5">(TPM)</tspan></text>
<g fill="#000"><circle cx="373.5" cy="335.3" r="1.2"/><circle cx="380.8" cy="333.5" r="1.2"/><circle cx="392.8" cy="324.2" r="1.2"/><circle cx="395.5" cy="332.4" r="1.2"/><circle cx="399.4" cy="328.4" r="1.2"/><circle cx="402.5" cy="333" r="1.2"/><circle cx="408.6" cy="335.8" r="1.2"/><circle cx="415.4" cy="336.8" r="1.2"/><circle cx="413.2" cy="340.4" r="1.2"/><circle cx="417.1" cy="343.2" r="1.2"/><circle cx="424" cy="323.5" r="1.2"/><circle cx="425.1" cy="331.9" r="1.2"/><circle cx="373.1" cy="348.8" r="1.2"/><circle cx="382.3" cy="348.2" r="1.2"/><circle cx="395.5" cy="347.8" r="1.2"/><circle cx="413.7" cy="352.2" r="1.2"/><circle cx="421.7" cy="354.2" r="1.2"/><circle cx="383.2" cy="360.4" r="1.2"/><circle cx="396.2" cy="359.6" r="1.2"/><circle cx="403.8" cy="358.1" r="1.2"/><circle cx="404.8" cy="363" r="1.2"/><circle cx="418.6" cy="357.3" r="1.2"/><circle cx="425.8" cy="360.8" r="1.2"/><circle cx="428.2" cy="356.2" r="1.2"/><circle cx="434.6" cy="353.9" r="1.2"/><circle cx="441.2" cy="353.9" r="1.2"/><circle cx="441.7" cy="360.4" r="1.2"/><circle cx="388.5" cy="367" r="1.2"/><circle cx="392.8" cy="368.8" r="1.2"/><circle cx="372.8" cy="375" r="1.2"/><circle cx="397.4" cy="375.5" r="1.2"/><circle cx="412.5" cy="376.5" r="1.2"/><circle cx="420" cy="371.5" r="1.2"/><circle cx="432" cy="368.1" r="1.2"/><circle cx="439.4" cy="370.4" r="1.2"/><circle cx="407.8" cy="381.5" r="1.2"/><circle cx="371.7" cy="397.5" r="1.2"/><circle cx="379.7" cy="394.2" r="1.2"/><circle cx="388.9" cy="396.5" r="1.2"/><circle cx="403.2" cy="405" r="1.2"/><circle cx="429.7" cy="402.2" r="1.2"/><circle cx="427.8" cy="409.2" r="1.2"/><circle cx="439.7" cy="391.9" r="1.2"/><circle cx="440.9" cy="405.8" r="1.2"/><circle cx="410.5" cy="314.7" r="1.2"/><circle cx="456.2" cy="307.3" r="1.2"/><circle cx="490.8" cy="303.5" r="1.2"/><circle cx="461.8" cy="321.2" r="1.2"/><circle cx="496.5" cy="321.2" r="1.2"/><circle cx="471.5" cy="337.6" r="1.2"/><circle cx="444.9" cy="345" r="1.2"/><circle cx="451.1" cy="347" r="1.2"/><circle cx="470.3" cy="345.3" r="1.2"/><circle cx="481.2" cy="348.2" r="1.2"/><circle cx="493.1" cy="339.3" r="1.2"/><circle cx="497.7" cy="343.9" r="1.2"/><circle cx="449.7" cy="355.5" r="1.2"/><circle cx="448.9" cy="359.6" r="1.2"/><circle cx="457.2" cy="369.3" r="1.2"/><circle cx="453.8" cy="376.5" r="1.2"/><circle cx="457.2" cy="381.2" r="1.2"/><circle cx="461.1" cy="381.2" r="1.2"/><circle cx="463.5" cy="388.4" r="1.2"/><circle cx="462.3" cy="396.5" r="1.2"/><circle cx="461.5" cy="397.3" r="1.2"/><circle cx="443.8" cy="396.5" r="1.2"/></g>
<path d="M372,352 L375.22,352.21 L378.45,352.42 L381.67,352.61 L384.89,352.8 L388.12,352.97 L391.34,353.13 L394.56,353.28 L397.78,353.4 L401.01,353.5 L404.23,353.58 L407.45,353.62 L410.68,353.63 L413.9,353.6 L417.12,353.52 L420.35,353.39 L423.57,353.2 L426.79,352.95 L430.02,352.64 L433.24,352.25 L436.46,351.81 L439.68,351.3 L442.91,350.75 L446.13,350.15 L449.35,349.51 L452.58,348.84 L455.8,348.15 L459.02,347.43 L462.25,346.7 L465.47,345.95 L468.69,345.19 L471.92,344.42 L475.14,343.64 L478.36,342.85 L481.58,342.06 L484.81,341.25 L488.03,340.45 L491.25,339.63 L494.48,338.82 L497.7,338 L497.7,366.4 L494.48,366.1 L491.25,365.81 L488.03,365.52 L484.81,365.24 L481.58,364.96 L478.36,364.69 L475.14,364.42 L471.92,364.16 L468.69,363.91 L465.47,363.68 L462.25,363.45 L459.02,363.24 L455.8,363.05 L452.58,362.88 L449.35,362.74 L446.13,362.62 L442.91,362.55 L439.68,362.51 L436.46,362.53 L433.24,362.61 L430.02,362.75 L426.79,362.96 L423.57,363.23 L420.35,363.57 L417.12,363.96 L413.9,364.4 L410.68,364.89 L407.45,365.42 L404.23,365.99 L401.01,366.59 L397.78,367.21 L394.56,367.86 L391.34,368.53 L388.12,369.21 L384.89,369.91 L381.67,370.62 L378.45,371.34 L375.22,372.06 L372,372.8Z" fill="#c6c6c6" fill-opacity="0.35"/>
<line x1="372" y1="362.4" x2="497.7" y2="352.2" stroke="#2f4dae" stroke-width="1.25" />
<line x1="366.3" y1="298.5" x2="366.3" y2="415.4" stroke="#777" stroke-width="1.1" />
<line x1="365.8" y1="414.8" x2="503.5" y2="414.8" stroke="#7a7a7a" stroke-width="1.4" />
<line x1="364" y1="413.6" x2="366.3" y2="413.6" stroke="#7a7a7a" stroke-width="0.9" />
<text transform="translate(362,416.9) scale(1,1.12)" font-size="8.5" fill="#3a3a3a" text-anchor="end" font-weight="normal" font-style="normal" >1</text>
<line x1="364" y1="383.8" x2="366.3" y2="383.8" stroke="#7a7a7a" stroke-width="0.9" />
<text transform="translate(362,387.1) scale(1,1.12)" font-size="8.5" fill="#3a3a3a" text-anchor="end" font-weight="normal" font-style="normal" >2</text>
<line x1="364" y1="354" x2="366.3" y2="354" stroke="#7a7a7a" stroke-width="0.9" />
<text transform="translate(362,357.3) scale(1,1.12)" font-size="8.5" fill="#3a3a3a" text-anchor="end" font-weight="normal" font-style="normal" >3</text>
<line x1="364" y1="324.3" x2="366.3" y2="324.3" stroke="#7a7a7a" stroke-width="0.9" />
<text transform="translate(362,327.6) scale(1,1.12)" font-size="8.5" fill="#3a3a3a" text-anchor="end" font-weight="normal" font-style="normal" >4</text>
<line x1="368.4" y1="414.8" x2="368.4" y2="417.1" stroke="#7a7a7a" stroke-width="0.9" />
<text transform="translate(368.4,426.2) scale(1,1.12)" font-size="8.5" fill="#3a3a3a" text-anchor="middle" font-weight="normal" font-style="normal" >5</text>
<line x1="390" y1="414.8" x2="390" y2="417.1" stroke="#7a7a7a" stroke-width="0.9" />
<text transform="translate(390,426.2) scale(1,1.12)" font-size="8.5" fill="#3a3a3a" text-anchor="middle" font-weight="normal" font-style="normal" >6</text>
<line x1="411.6" y1="414.8" x2="411.6" y2="417.1" stroke="#7a7a7a" stroke-width="0.9" />
<text transform="translate(411.6,426.2) scale(1,1.12)" font-size="8.5" fill="#3a3a3a" text-anchor="middle" font-weight="normal" font-style="normal" >7</text>
<line x1="433" y1="414.8" x2="433" y2="417.1" stroke="#7a7a7a" stroke-width="0.9" />
<text transform="translate(433,426.2) scale(1,1.12)" font-size="8.5" fill="#3a3a3a" text-anchor="middle" font-weight="normal" font-style="normal" >8</text>
<line x1="454.4" y1="414.8" x2="454.4" y2="417.1" stroke="#7a7a7a" stroke-width="0.9" />
<text transform="translate(454.4,426.2) scale(1,1.12)" font-size="8.5" fill="#3a3a3a" text-anchor="middle" font-weight="normal" font-style="normal" >9</text>
<line x1="475.8" y1="414.8" x2="475.8" y2="417.1" stroke="#7a7a7a" stroke-width="0.9" />
<text transform="translate(475.8,426.2) scale(1,1.12)" font-size="8.5" fill="#3a3a3a" text-anchor="middle" font-weight="normal" font-style="normal" >10</text>
<line x1="497.4" y1="414.8" x2="497.4" y2="417.1" stroke="#7a7a7a" stroke-width="0.9" />
<text transform="translate(497.4,426.2) scale(1,1.12)" font-size="8.5" fill="#3a3a3a" text-anchor="middle" font-weight="normal" font-style="normal" >11</text>
<text transform="translate(372,314.6) scale(1,1.12)" font-size="8.3" fill="#333" text-anchor="start" font-weight="normal" font-style="normal" ><tspan font-style="italic">R</tspan> = 0.056, <tspan font-style="italic">p</tspan> = 0.64</text>
<text transform="translate(504,411.8) scale(1,1.12)" font-size="8.1" fill="#222" text-anchor="end" font-weight="normal" font-style="normal" >METS (<tspan font-style="italic">AR</tspan>+)</text>
<text transform="translate(431.3,439.2) scale(1,1.12)" font-size="8.7" fill="#333" text-anchor="middle" font-weight="normal" font-style="normal" ><tspan font-style="italic">AR</tspan> log<tspan font-size="6.0" dy="2.5">2</tspan><tspan dy="-2.5">(TPM)</tspan></text>
<text transform="translate(351.2,358.6) rotate(-90)" font-size="8.8" fill="#333" text-anchor="middle"><tspan font-style="italic">PARP7</tspan> log<tspan font-size="6.1" dy="2.5">2</tspan><tspan dy="-2.5">(TPM)</tspan></text>
<g fill="#000"><circle cx="101.5" cy="504.62" r="1.1"/><circle cx="105.93" cy="485.65" r="1.1"/><circle cx="86.37" cy="522.8" r="1.1"/><circle cx="100.76" cy="508.87" r="1.1"/><circle cx="95.19" cy="495.63" r="1.1"/><circle cx="87.94" cy="527.99" r="1.1"/><circle cx="88.57" cy="514.99" r="1.1"/><circle cx="96.61" cy="524.14" r="1.1"/><circle cx="96.08" cy="505.54" r="1.1"/><circle cx="87.51" cy="490.47" r="1.1"/><circle cx="89.52" cy="520.67" r="1.1"/><circle cx="111.67" cy="495.33" r="1.1"/><circle cx="98.73" cy="517.38" r="1.1"/><circle cx="108.39" cy="515.25" r="1.1"/><circle cx="112.95" cy="513.82" r="1.1"/><circle cx="104.12" cy="483.44" r="1.1"/><circle cx="128.33" cy="457.86" r="1.1"/><circle cx="83.77" cy="507.68" r="1.1"/><circle cx="107.29" cy="510.18" r="1.1"/><circle cx="91.07" cy="500.65" r="1.1"/><circle cx="122.36" cy="496.66" r="1.1"/><circle cx="120.12" cy="483" r="1.1"/><circle cx="67.52" cy="519.36" r="1.1"/><circle cx="81.71" cy="511.51" r="1.1"/><circle cx="105.21" cy="493.96" r="1.1"/><circle cx="107.02" cy="508.53" r="1.1"/><circle cx="106.25" cy="506.67" r="1.1"/><circle cx="94.63" cy="530.52" r="1.1"/><circle cx="102.2" cy="509.44" r="1.1"/><circle cx="105.05" cy="520.72" r="1.1"/><circle cx="94.53" cy="509.86" r="1.1"/><circle cx="110.44" cy="511.58" r="1.1"/><circle cx="63.13" cy="524.33" r="1.1"/><circle cx="104.77" cy="496.23" r="1.1"/><circle cx="80.77" cy="534.38" r="1.1"/><circle cx="109.45" cy="510.24" r="1.1"/><circle cx="92.36" cy="521.58" r="1.1"/><circle cx="82.86" cy="504.73" r="1.1"/><circle cx="101.03" cy="481.87" r="1.1"/><circle cx="82.53" cy="503.53" r="1.1"/><circle cx="82.51" cy="519.33" r="1.1"/><circle cx="73.09" cy="500.8" r="1.1"/><circle cx="95.27" cy="527.44" r="1.1"/><circle cx="102.8" cy="483.6" r="1.1"/><circle cx="110.37" cy="507.65" r="1.1"/><circle cx="93.61" cy="545.01" r="1.1"/><circle cx="110.73" cy="463.99" r="1.1"/><circle cx="95.91" cy="486.45" r="1.1"/><circle cx="94.31" cy="521.64" r="1.1"/><circle cx="103.91" cy="500.45" r="1.1"/><circle cx="110.88" cy="501.56" r="1.1"/><circle cx="90.74" cy="508.76" r="1.1"/><circle cx="92.14" cy="528.8" r="1.1"/><circle cx="93.34" cy="517.59" r="1.1"/><circle cx="96.84" cy="500.51" r="1.1"/><circle cx="82.69" cy="511.71" r="1.1"/><circle cx="110.45" cy="483.23" r="1.1"/><circle cx="89.89" cy="509.53" r="1.1"/><circle cx="102.31" cy="472.71" r="1.1"/><circle cx="83.77" cy="523.43" r="1.1"/><circle cx="100.81" cy="501.01" r="1.1"/><circle cx="101.29" cy="529.33" r="1.1"/><circle cx="89.6" cy="527.21" r="1.1"/><circle cx="124.74" cy="473.47" r="1.1"/><circle cx="100.99" cy="516.71" r="1.1"/><circle cx="121.22" cy="485.94" r="1.1"/><circle cx="109.45" cy="500.36" r="1.1"/><circle cx="86.12" cy="526.43" r="1.1"/><circle cx="90.15" cy="515.01" r="1.1"/><circle cx="101.93" cy="510.55" r="1.1"/><circle cx="96.53" cy="513.24" r="1.1"/><circle cx="96.36" cy="497.03" r="1.1"/><circle cx="91.53" cy="501.08" r="1.1"/><circle cx="69.62" cy="529.59" r="1.1"/><circle cx="92.41" cy="521.08" r="1.1"/><circle cx="63.73" cy="521.62" r="1.1"/><circle cx="101" cy="505.63" r="1.1"/><circle cx="85.2" cy="499.71" r="1.1"/><circle cx="85.35" cy="478.24" r="1.1"/><circle cx="92.49" cy="498.03" r="1.1"/><circle cx="99.57" cy="505.57" r="1.1"/><circle cx="75.04" cy="521.21" r="1.1"/><circle cx="70.48" cy="532.77" r="1.1"/><circle cx="80.31" cy="527.89" r="1.1"/><circle cx="66.26" cy="537.08" r="1.1"/><circle cx="81.73" cy="520.37" r="1.1"/><circle cx="118.55" cy="500.03" r="1.1"/><circle cx="80.44" cy="506.13" r="1.1"/><circle cx="105.03" cy="507.29" r="1.1"/><circle cx="75.91" cy="521.05" r="1.1"/><circle cx="99.96" cy="520.91" r="1.1"/><circle cx="91.05" cy="488.31" r="1.1"/><circle cx="94.79" cy="501.15" r="1.1"/><circle cx="103.84" cy="479.21" r="1.1"/><circle cx="120.93" cy="482.61" r="1.1"/><circle cx="98.45" cy="486.18" r="1.1"/><circle cx="97.44" cy="509.58" r="1.1"/><circle cx="81.64" cy="505.8" r="1.1"/><circle cx="104.05" cy="467.05" r="1.1"/><circle cx="92.11" cy="525.4" r="1.1"/><circle cx="107.62" cy="485.12" r="1.1"/><circle cx="95.02" cy="485.37" r="1.1"/><circle cx="120.71" cy="487.67" r="1.1"/><circle cx="67.11" cy="513.36" r="1.1"/><circle cx="91.38" cy="492.92" r="1.1"/><circle cx="108.34" cy="508.98" r="1.1"/><circle cx="90.6" cy="504.69" r="1.1"/><circle cx="84.25" cy="525.42" r="1.1"/><circle cx="91.82" cy="518.57" r="1.1"/><circle cx="75.79" cy="526.82" r="1.1"/><circle cx="97.36" cy="508.29" r="1.1"/><circle cx="130.77" cy="485.56" r="1.1"/><circle cx="112.13" cy="491.95" r="1.1"/><circle cx="79.69" cy="535.39" r="1.1"/><circle cx="83.08" cy="487.78" r="1.1"/><circle cx="89.82" cy="495.06" r="1.1"/><circle cx="110.11" cy="489.41" r="1.1"/><circle cx="83.83" cy="518.81" r="1.1"/><circle cx="85.72" cy="514.13" r="1.1"/><circle cx="108.38" cy="492.78" r="1.1"/><circle cx="108.09" cy="494.78" r="1.1"/><circle cx="90.27" cy="532.98" r="1.1"/><circle cx="79.56" cy="506.42" r="1.1"/><circle cx="73.35" cy="480.64" r="1.1"/><circle cx="85.59" cy="537.88" r="1.1"/><circle cx="63.55" cy="512.03" r="1.1"/><circle cx="106.44" cy="496.27" r="1.1"/><circle cx="86.58" cy="513.94" r="1.1"/><circle cx="102.58" cy="484.94" r="1.1"/><circle cx="122.54" cy="508.12" r="1.1"/><circle cx="112.53" cy="495.62" r="1.1"/><circle cx="79.08" cy="496.93" r="1.1"/><circle cx="108.16" cy="502.93" r="1.1"/><circle cx="112.31" cy="503.57" r="1.1"/><circle cx="84.91" cy="511.83" r="1.1"/><circle cx="81.93" cy="521.07" r="1.1"/><circle cx="94.07" cy="487.34" r="1.1"/><circle cx="72.6" cy="532.57" r="1.1"/><circle cx="116.82" cy="483.61" r="1.1"/><circle cx="61.03" cy="543.75" r="1.1"/><circle cx="79.72" cy="507.27" r="1.1"/><circle cx="91.77" cy="510.93" r="1.1"/><circle cx="92.38" cy="544.06" r="1.1"/><circle cx="98.04" cy="506.06" r="1.1"/><circle cx="99.56" cy="519.54" r="1.1"/><circle cx="92.58" cy="515.06" r="1.1"/><circle cx="112.01" cy="477.32" r="1.1"/><circle cx="64.86" cy="539.78" r="1.1"/><circle cx="95.65" cy="521.65" r="1.1"/><circle cx="85.37" cy="493.67" r="1.1"/><circle cx="97.56" cy="504.69" r="1.1"/><circle cx="98.83" cy="484.71" r="1.1"/><circle cx="82.53" cy="510.36" r="1.1"/><circle cx="86.43" cy="524.45" r="1.1"/><circle cx="107.06" cy="501.79" r="1.1"/><circle cx="100.67" cy="487.89" r="1.1"/><circle cx="85.86" cy="500.14" r="1.1"/><circle cx="125.01" cy="490.77" r="1.1"/><circle cx="128.88" cy="487.93" r="1.1"/><circle cx="74.6" cy="520.72" r="1.1"/><circle cx="99.99" cy="512.69" r="1.1"/><circle cx="131.76" cy="460.88" r="1.1"/><circle cx="106.93" cy="500.87" r="1.1"/><circle cx="98.83" cy="520.82" r="1.1"/><circle cx="92.66" cy="515.46" r="1.1"/><circle cx="87.86" cy="501.91" r="1.1"/><circle cx="92.59" cy="500.39" r="1.1"/><circle cx="87.72" cy="513.65" r="1.1"/><circle cx="106.37" cy="510.32" r="1.1"/><circle cx="89.92" cy="510.24" r="1.1"/><circle cx="89.3" cy="533.52" r="1.1"/><circle cx="78.35" cy="534.67" r="1.1"/><circle cx="94.94" cy="496.94" r="1.1"/><circle cx="82.78" cy="521.06" r="1.1"/><circle cx="93.05" cy="503.73" r="1.1"/><circle cx="110.64" cy="482.42" r="1.1"/><circle cx="100.92" cy="495.58" r="1.1"/><circle cx="102.91" cy="502.96" r="1.1"/><circle cx="100.78" cy="475.69" r="1.1"/><circle cx="96.5" cy="497.83" r="1.1"/><circle cx="93.82" cy="513.15" r="1.1"/><circle cx="91.22" cy="499.94" r="1.1"/><circle cx="106.58" cy="495.66" r="1.1"/><circle cx="80.05" cy="527.69" r="1.1"/><circle cx="114.95" cy="495.46" r="1.1"/><circle cx="96.14" cy="509.28" r="1.1"/><circle cx="84.87" cy="539.97" r="1.1"/><circle cx="88.61" cy="513.63" r="1.1"/><circle cx="85.91" cy="516.65" r="1.1"/><circle cx="97.96" cy="511.95" r="1.1"/><circle cx="85.32" cy="535.37" r="1.1"/><circle cx="112.09" cy="502.85" r="1.1"/><circle cx="84.4" cy="514.21" r="1.1"/><circle cx="62.94" cy="524.39" r="1.1"/><circle cx="85.13" cy="528.6" r="1.1"/><circle cx="66.74" cy="515.08" r="1.1"/><circle cx="95.08" cy="524.07" r="1.1"/><circle cx="110.89" cy="501.76" r="1.1"/><circle cx="104.97" cy="484.44" r="1.1"/><circle cx="76.4" cy="527.53" r="1.1"/><circle cx="84.68" cy="520.41" r="1.1"/><circle cx="121.25" cy="478.4" r="1.1"/><circle cx="100.23" cy="509.93" r="1.1"/><circle cx="95.71" cy="511.31" r="1.1"/><circle cx="110.85" cy="495.77" r="1.1"/><circle cx="130.95" cy="473.26" r="1.1"/><circle cx="114.31" cy="526.57" r="1.1"/><circle cx="97.66" cy="517.38" r="1.1"/><circle cx="100.75" cy="518.05" r="1.1"/><circle cx="104.53" cy="516.97" r="1.1"/><circle cx="86.83" cy="523.83" r="1.1"/><circle cx="80.41" cy="527.24" r="1.1"/><circle cx="96.4" cy="502.84" r="1.1"/><circle cx="82.02" cy="527" r="1.1"/><circle cx="94.77" cy="506.18" r="1.1"/><circle cx="97.03" cy="501.14" r="1.1"/><circle cx="129.34" cy="498.16" r="1.1"/><circle cx="83.4" cy="512.47" r="1.1"/><circle cx="93.9" cy="486.27" r="1.1"/><circle cx="93.29" cy="504.32" r="1.1"/><circle cx="101.94" cy="512.36" r="1.1"/><circle cx="110.71" cy="499.71" r="1.1"/><circle cx="88.59" cy="523.63" r="1.1"/><circle cx="83.83" cy="510.35" r="1.1"/><circle cx="72.04" cy="509.05" r="1.1"/><circle cx="82.32" cy="525.85" r="1.1"/><circle cx="103.37" cy="505.79" r="1.1"/><circle cx="96.31" cy="492.01" r="1.1"/><circle cx="81.04" cy="522.25" r="1.1"/><circle cx="90.28" cy="507.83" r="1.1"/><circle cx="96.1" cy="520.82" r="1.1"/><circle cx="102.9" cy="514.24" r="1.1"/><circle cx="87.11" cy="519.02" r="1.1"/><circle cx="92.05" cy="480.76" r="1.1"/><circle cx="69.48" cy="527.46" r="1.1"/><circle cx="79.08" cy="523.63" r="1.1"/><circle cx="118.93" cy="501.6" r="1.1"/><circle cx="64.16" cy="527.26" r="1.1"/><circle cx="90.79" cy="501.45" r="1.1"/><circle cx="98.8" cy="503.06" r="1.1"/><circle cx="90.26" cy="483.33" r="1.1"/><circle cx="84.02" cy="511.08" r="1.1"/><circle cx="94.77" cy="488.81" r="1.1"/><circle cx="95.58" cy="503.73" r="1.1"/><circle cx="94.47" cy="500.04" r="1.1"/><circle cx="68.63" cy="541.53" r="1.1"/><circle cx="93.53" cy="510.19" r="1.1"/><circle cx="83.34" cy="515.17" r="1.1"/><circle cx="87.77" cy="514.97" r="1.1"/><circle cx="98.92" cy="533.78" r="1.1"/><circle cx="104.87" cy="490.56" r="1.1"/><circle cx="108.56" cy="505.14" r="1.1"/><circle cx="88.51" cy="517.11" r="1.1"/><circle cx="108.95" cy="503.18" r="1.1"/><circle cx="112.54" cy="500.8" r="1.1"/><circle cx="112.01" cy="492.76" r="1.1"/><circle cx="115.65" cy="512.75" r="1.1"/><circle cx="93.55" cy="520.74" r="1.1"/><circle cx="93.14" cy="504.92" r="1.1"/><circle cx="107.52" cy="498.72" r="1.1"/><circle cx="75.98" cy="523.37" r="1.1"/><circle cx="98.66" cy="513.17" r="1.1"/><circle cx="88.01" cy="522.6" r="1.1"/><circle cx="90.34" cy="511.09" r="1.1"/><circle cx="70.59" cy="505.94" r="1.1"/><circle cx="82.83" cy="528.46" r="1.1"/><circle cx="95.36" cy="487.48" r="1.1"/><circle cx="108.44" cy="489.03" r="1.1"/><circle cx="109.9" cy="505.25" r="1.1"/><circle cx="94.49" cy="497.69" r="1.1"/><circle cx="92.93" cy="528.13" r="1.1"/><circle cx="83.69" cy="536.82" r="1.1"/><circle cx="101.44" cy="521.01" r="1.1"/><circle cx="92.09" cy="514.72" r="1.1"/><circle cx="104.37" cy="506.69" r="1.1"/><circle cx="120.86" cy="499.88" r="1.1"/><circle cx="95.18" cy="506.29" r="1.1"/><circle cx="74.1" cy="547.53" r="1.1"/><circle cx="83.26" cy="507.8" r="1.1"/><circle cx="74.66" cy="537.81" r="1.1"/><circle cx="78.42" cy="525.73" r="1.1"/><circle cx="114.44" cy="502.16" r="1.1"/><circle cx="98.91" cy="520.68" r="1.1"/><circle cx="73.77" cy="537.68" r="1.1"/><circle cx="105.06" cy="515.25" r="1.1"/><circle cx="113.79" cy="497.26" r="1.1"/><circle cx="90.47" cy="502.5" r="1.1"/><circle cx="85.92" cy="505.4" r="1.1"/><circle cx="90.79" cy="523.13" r="1.1"/><circle cx="99.75" cy="515.42" r="1.1"/><circle cx="104.86" cy="514.23" r="1.1"/><circle cx="112.67" cy="491.83" r="1.1"/><circle cx="113.1" cy="524.26" r="1.1"/><circle cx="112.71" cy="481.44" r="1.1"/><circle cx="115.25" cy="502.65" r="1.1"/><circle cx="105.17" cy="512.26" r="1.1"/><circle cx="73.62" cy="515.29" r="1.1"/><circle cx="93.77" cy="494.82" r="1.1"/><circle cx="100.17" cy="500.28" r="1.1"/><circle cx="90.14" cy="496.6" r="1.1"/><circle cx="108.77" cy="498.17" r="1.1"/><circle cx="90.47" cy="494.09" r="1.1"/><circle cx="82.33" cy="498.48" r="1.1"/><circle cx="116.44" cy="496.92" r="1.1"/><circle cx="105.24" cy="483.01" r="1.1"/><circle cx="98.81" cy="503.39" r="1.1"/><circle cx="108.99" cy="498.67" r="1.1"/><circle cx="110.94" cy="510.82" r="1.1"/><circle cx="100.56" cy="508.36" r="1.1"/><circle cx="60.28" cy="517.05" r="1.1"/><circle cx="85.93" cy="530.06" r="1.1"/><circle cx="89.08" cy="502.5" r="1.1"/><circle cx="81.48" cy="510.73" r="1.1"/><circle cx="98.51" cy="502.07" r="1.1"/><circle cx="112.81" cy="526.65" r="1.1"/><circle cx="88.67" cy="512.62" r="1.1"/><circle cx="79.32" cy="508.02" r="1.1"/><circle cx="124.84" cy="500.9" r="1.1"/><circle cx="89.15" cy="509.81" r="1.1"/><circle cx="77.9" cy="548.58" r="1.1"/><circle cx="99.07" cy="496.58" r="1.1"/><circle cx="101.78" cy="512.58" r="1.1"/><circle cx="85.5" cy="501.6" r="1.1"/><circle cx="107.03" cy="525.13" r="1.1"/><circle cx="88.64" cy="502.19" r="1.1"/><circle cx="82.37" cy="517.93" r="1.1"/><circle cx="98.22" cy="495.27" r="1.1"/><circle cx="106.74" cy="513.24" r="1.1"/><circle cx="86.53" cy="520.6" r="1.1"/><circle cx="100.41" cy="475.18" r="1.1"/><circle cx="94.3" cy="518.99" r="1.1"/><circle cx="136.3" cy="493.69" r="1.1"/><circle cx="85.45" cy="516.71" r="1.1"/><circle cx="115.57" cy="509.53" r="1.1"/><circle cx="94.9" cy="492.11" r="1.1"/><circle cx="93.83" cy="485.69" r="1.1"/><circle cx="106.04" cy="510.73" r="1.1"/><circle cx="108.52" cy="522.76" r="1.1"/><circle cx="113.89" cy="481.65" r="1.1"/><circle cx="100.38" cy="490.1" r="1.1"/><circle cx="87.01" cy="501.4" r="1.1"/><circle cx="87.91" cy="496.49" r="1.1"/><circle cx="102.99" cy="514.59" r="1.1"/><circle cx="104.01" cy="504.83" r="1.1"/><circle cx="115.77" cy="514.17" r="1.1"/><circle cx="101.67" cy="522.57" r="1.1"/><circle cx="110.91" cy="485.83" r="1.1"/><circle cx="117.48" cy="503.85" r="1.1"/><circle cx="98.02" cy="476.04" r="1.1"/><circle cx="74.27" cy="518.41" r="1.1"/><circle cx="78.68" cy="525.31" r="1.1"/><circle cx="74.96" cy="508.51" r="1.1"/><circle cx="118.56" cy="470.75" r="1.1"/><circle cx="83.45" cy="507.82" r="1.1"/><circle cx="113.38" cy="513.33" r="1.1"/><circle cx="104.08" cy="497.7" r="1.1"/><circle cx="120.34" cy="475.34" r="1.1"/><circle cx="110.09" cy="505.67" r="1.1"/><circle cx="94.18" cy="518.33" r="1.1"/><circle cx="92.77" cy="495.6" r="1.1"/><circle cx="96.88" cy="504.8" r="1.1"/><circle cx="98.17" cy="520.39" r="1.1"/><circle cx="88.01" cy="516.63" r="1.1"/><circle cx="95.18" cy="517.52" r="1.1"/><circle cx="118.81" cy="490.38" r="1.1"/><circle cx="71.15" cy="519.7" r="1.1"/><circle cx="99.37" cy="490.11" r="1.1"/><circle cx="82.6" cy="505.36" r="1.1"/><circle cx="98.34" cy="526.36" r="1.1"/><circle cx="107.74" cy="495.17" r="1.1"/><circle cx="94.82" cy="496.01" r="1.1"/><circle cx="106.78" cy="495.07" r="1.1"/><circle cx="72.77" cy="506.69" r="1.1"/><circle cx="111.58" cy="505.57" r="1.1"/><circle cx="86.97" cy="524.72" r="1.1"/><circle cx="104.61" cy="490.06" r="1.1"/><circle cx="98.28" cy="519.85" r="1.1"/><circle cx="58.44" cy="552.5" r="1.1"/><circle cx="84.77" cy="499.99" r="1.1"/><circle cx="98.82" cy="515.06" r="1.1"/><circle cx="118.02" cy="498.74" r="1.1"/><circle cx="99.78" cy="523.37" r="1.1"/><circle cx="99.36" cy="522.66" r="1.1"/><circle cx="75.32" cy="533.99" r="1.1"/><circle cx="116.25" cy="500.46" r="1.1"/><circle cx="121.66" cy="487.8" r="1.1"/><circle cx="96.06" cy="537.29" r="1.1"/><circle cx="92.49" cy="499.23" r="1.1"/><circle cx="72.35" cy="536" r="1.1"/><circle cx="108.36" cy="514.17" r="1.1"/><circle cx="134.54" cy="476.5" r="1.1"/><circle cx="105.97" cy="502.49" r="1.1"/><circle cx="113.84" cy="517.26" r="1.1"/><circle cx="103.45" cy="478.69" r="1.1"/><circle cx="81.47" cy="526.63" r="1.1"/><circle cx="114.89" cy="493.23" r="1.1"/><circle cx="77.88" cy="514.72" r="1.1"/><circle cx="92.62" cy="490.49" r="1.1"/><circle cx="99.66" cy="511.05" r="1.1"/><circle cx="108.36" cy="486.92" r="1.1"/><circle cx="101.64" cy="513.7" r="1.1"/><circle cx="101.22" cy="489.45" r="1.1"/><circle cx="84.69" cy="523.53" r="1.1"/><circle cx="77.09" cy="522.55" r="1.1"/><circle cx="96.53" cy="481.92" r="1.1"/><circle cx="85.43" cy="508.93" r="1.1"/><circle cx="76.83" cy="516.5" r="1.1"/><circle cx="77.43" cy="488.14" r="1.1"/><circle cx="88.6" cy="506.56" r="1.1"/><circle cx="68.99" cy="533.08" r="1.1"/><circle cx="76.26" cy="508.61" r="1.1"/><circle cx="72.12" cy="536.12" r="1.1"/><circle cx="98.27" cy="491.02" r="1.1"/><circle cx="101.52" cy="488.17" r="1.1"/><circle cx="124.54" cy="498.57" r="1.1"/><circle cx="74.1" cy="527.73" r="1.1"/><circle cx="85.87" cy="510.52" r="1.1"/><circle cx="108.78" cy="499.74" r="1.1"/><circle cx="92.53" cy="521.93" r="1.1"/><circle cx="90.94" cy="502.52" r="1.1"/><circle cx="120.25" cy="520.29" r="1.1"/><circle cx="90.78" cy="515.76" r="1.1"/><circle cx="79.01" cy="522.02" r="1.1"/><circle cx="76.7" cy="521.61" r="1.1"/><circle cx="100.48" cy="500.57" r="1.1"/><circle cx="100.04" cy="520.99" r="1.1"/><circle cx="75.91" cy="510.73" r="1.1"/><circle cx="81.47" cy="517.69" r="1.1"/><circle cx="103.35" cy="511.53" r="1.1"/><circle cx="103.96" cy="520.6" r="1.1"/><circle cx="86.39" cy="528.09" r="1.1"/><circle cx="104.61" cy="497.55" r="1.1"/><circle cx="103.88" cy="515.35" r="1.1"/><circle cx="69.99" cy="520.95" r="1.1"/><circle cx="91.16" cy="495.91" r="1.1"/><circle cx="101.62" cy="490.39" r="1.1"/><circle cx="87.4" cy="491.48" r="1.1"/><circle cx="64.87" cy="528.58" r="1.1"/><circle cx="91.58" cy="523.88" r="1.1"/><circle cx="106.47" cy="487.82" r="1.1"/><circle cx="118.4" cy="490.44" r="1.1"/><circle cx="64.12" cy="510.34" r="1.1"/><circle cx="133.26" cy="485.98" r="1.1"/><circle cx="79.43" cy="500.76" r="1.1"/><circle cx="109.42" cy="488.44" r="1.1"/><circle cx="113.41" cy="487.9" r="1.1"/><circle cx="109.8" cy="492.74" r="1.1"/><circle cx="97.8" cy="500.89" r="1.1"/><circle cx="78.93" cy="513.69" r="1.1"/><circle cx="104.67" cy="499.28" r="1.1"/><circle cx="85.36" cy="500.12" r="1.1"/><circle cx="59.34" cy="534.53" r="1.1"/><circle cx="136.36" cy="461.57" r="1.1"/><circle cx="105.84" cy="502.98" r="1.1"/><circle cx="121.82" cy="479.63" r="1.1"/><circle cx="82.53" cy="515.91" r="1.1"/><circle cx="116.77" cy="498.66" r="1.1"/><circle cx="118.53" cy="467.72" r="1.1"/><circle cx="118.02" cy="498.78" r="1.1"/><circle cx="95.34" cy="524.28" r="1.1"/><circle cx="78.34" cy="526.47" r="1.1"/><circle cx="93.1" cy="512.94" r="1.1"/><circle cx="63.95" cy="496.88" r="1.1"/><circle cx="71.15" cy="518.42" r="1.1"/><circle cx="96.97" cy="494.3" r="1.1"/><circle cx="81.38" cy="528.53" r="1.1"/><circle cx="93.28" cy="504.03" r="1.1"/><circle cx="94.08" cy="499.39" r="1.1"/><circle cx="123.44" cy="467.99" r="1.1"/><circle cx="114.33" cy="505.95" r="1.1"/><circle cx="37.8" cy="556.9" r="1.1"/><circle cx="48.9" cy="554.9" r="1.1"/><circle cx="51.7" cy="555.8" r="1.1"/><circle cx="50.3" cy="553.5" r="1.1"/><circle cx="54.5" cy="548" r="1.1"/><circle cx="39.2" cy="536.8" r="1.1"/><circle cx="46.1" cy="525.7" r="1.1"/><circle cx="163.8" cy="506.1" r="1.1"/><circle cx="163.8" cy="510.3" r="1.1"/><circle cx="140.4" cy="520.1" r="1.1"/><circle cx="124.2" cy="452.6" r="1.1"/><circle cx="134" cy="466.5" r="1.1"/><circle cx="100.5" cy="467.1" r="1.1"/><circle cx="79.6" cy="550.2" r="1.1"/><circle cx="101.1" cy="540.2" r="1.1"/><circle cx="85.2" cy="543" r="1.1"/><circle cx="118" cy="458" r="1.1"/><circle cx="112" cy="463" r="1.1"/></g>
<path d="M37.8,538 L41.03,536.27 L44.26,534.55 L47.49,532.82 L50.72,531.08 L53.95,529.35 L57.18,527.6 L60.42,525.86 L63.65,524.11 L66.88,522.36 L70.11,520.59 L73.34,518.83 L76.57,517.05 L79.8,515.26 L83.03,513.47 L86.26,511.66 L89.49,509.84 L92.72,508.01 L95.95,506.17 L99.18,504.31 L102.42,502.44 L105.65,500.56 L108.88,498.67 L112.11,496.76 L115.34,494.85 L118.57,492.92 L121.8,490.99 L125.03,489.05 L128.26,487.11 L131.49,485.16 L134.72,483.21 L137.95,481.25 L141.18,479.29 L144.42,477.33 L147.65,475.36 L150.88,473.39 L154.11,471.42 L157.34,469.45 L160.57,467.48 L163.8,465.5 L163.8,472.5 L160.57,474.22 L157.34,475.94 L154.11,477.65 L150.88,479.38 L147.65,481.1 L144.42,482.83 L141.18,484.55 L137.95,486.29 L134.72,488.02 L131.49,489.76 L128.26,491.5 L125.03,493.25 L121.8,495.01 L118.57,496.77 L115.34,498.54 L112.11,500.32 L108.88,502.1 L105.65,503.9 L102.42,505.71 L99.18,507.53 L95.95,509.37 L92.72,511.22 L89.49,513.08 L86.26,514.95 L83.03,516.84 L79.8,518.74 L76.57,520.64 L73.34,522.56 L70.11,524.48 L66.88,526.41 L63.65,528.35 L60.42,530.29 L57.18,532.24 L53.95,534.19 L50.72,536.15 L47.49,538.11 L44.26,540.07 L41.03,542.03 L37.8,544Z" fill="#c6c6c6" fill-opacity="0.35"/>
<line x1="37.8" y1="541" x2="163.8" y2="469" stroke="#2f4dae" stroke-width="1.25" />
<line x1="31.5" y1="447" x2="31.5" y2="564.4" stroke="#777" stroke-width="1.1" />
<line x1="31" y1="563.8" x2="170" y2="563.8" stroke="#7a7a7a" stroke-width="1.4" />
<line x1="29.2" y1="541" x2="31.5" y2="541" stroke="#7a7a7a" stroke-width="0.9" />
<text transform="translate(27.2,544.3) scale(1,1.12)" font-size="8.5" fill="#3a3a3a" text-anchor="end" font-weight="normal" font-style="normal" >2</text>
<line x1="29.2" y1="508.15" x2="31.5" y2="508.15" stroke="#7a7a7a" stroke-width="0.9" />
<text transform="translate(27.2,511.45) scale(1,1.12)" font-size="8.5" fill="#3a3a3a" text-anchor="end" font-weight="normal" font-style="normal" >4</text>
<line x1="29.2" y1="475.3" x2="31.5" y2="475.3" stroke="#7a7a7a" stroke-width="0.9" />
<text transform="translate(27.2,478.6) scale(1,1.12)" font-size="8.5" fill="#3a3a3a" text-anchor="end" font-weight="normal" font-style="normal" >6</text>
<line x1="50" y1="563.8" x2="50" y2="566.1" stroke="#7a7a7a" stroke-width="0.9" />
<text transform="translate(50,575.2) scale(1,1.12)" font-size="8.5" fill="#3a3a3a" text-anchor="middle" font-weight="normal" font-style="normal" >0</text>
<line x1="80.1" y1="563.8" x2="80.1" y2="566.1" stroke="#7a7a7a" stroke-width="0.9" />
<text transform="translate(80.1,575.2) scale(1,1.12)" font-size="8.5" fill="#3a3a3a" text-anchor="middle" font-weight="normal" font-style="normal" >2</text>
<line x1="110.5" y1="563.8" x2="110.5" y2="566.1" stroke="#7a7a7a" stroke-width="0.9" />
<text transform="translate(110.5,575.2) scale(1,1.12)" font-size="8.5" fill="#3a3a3a" text-anchor="middle" font-weight="normal" font-style="normal" >4</text>
<line x1="141" y1="563.8" x2="141" y2="566.1" stroke="#7a7a7a" stroke-width="0.9" />
<text transform="translate(141,575.2) scale(1,1.12)" font-size="8.5" fill="#3a3a3a" text-anchor="middle" font-weight="normal" font-style="normal" >6</text>
<text transform="translate(37.8,463.3) scale(1,1.12)" font-size="8.3" fill="#333" text-anchor="start" font-weight="normal" font-style="normal" ><tspan font-style="italic">R</tspan> = 0.56, <tspan font-style="italic">P</tspan> &lt; 2.2e-16</text>
<text transform="translate(163.2,561.5) scale(1,1.12)" font-size="8.1" fill="#222" text-anchor="end" font-weight="normal" font-style="normal" >PRIMARY</text>
<text transform="translate(101,589.8) scale(1,1.12)" font-size="8.7" fill="#333" text-anchor="middle" font-weight="normal" font-style="normal" ><tspan font-style="italic">AHR</tspan> log<tspan font-size="6.0" dy="2.5">2</tspan><tspan dy="-2.5">(TPM)</tspan></text>
<text transform="translate(17.8,505.8) rotate(-90)" font-size="8.8" fill="#333" text-anchor="middle"><tspan font-style="italic">PARP7</tspan> log<tspan font-size="6.1" dy="2.5">2</tspan><tspan dy="-2.5">(TPM)</tspan></text>
<g fill="#000"><circle cx="263.3" cy="471.5" r="1.2"/><circle cx="330.2" cy="465.1" r="1.2"/><circle cx="273.1" cy="477.9" r="1.2"/><circle cx="293.2" cy="477.1" r="1.2"/><circle cx="227.3" cy="489.1" r="1.2"/><circle cx="268.6" cy="486.8" r="1.2"/><circle cx="272.5" cy="483.5" r="1.2"/><circle cx="277.5" cy="486" r="1.2"/><circle cx="281.7" cy="484.6" r="1.2"/><circle cx="302.4" cy="479.3" r="1.2"/><circle cx="302.1" cy="482.6" r="1.2"/><circle cx="303.8" cy="486.5" r="1.2"/><circle cx="312.7" cy="483.5" r="1.2"/><circle cx="249.4" cy="495.2" r="1.2"/><circle cx="271.4" cy="493.2" r="1.2"/><circle cx="319.1" cy="499.7" r="1.2"/><circle cx="253.6" cy="504.4" r="1.2"/><circle cx="265.3" cy="506.3" r="1.2"/><circle cx="272.8" cy="519.7" r="1.2"/><circle cx="278.7" cy="520.3" r="1.2"/><circle cx="261.9" cy="523.9" r="1.2"/><circle cx="262.8" cy="523.1" r="1.2"/><circle cx="289.3" cy="528.4" r="1.2"/><circle cx="231.3" cy="536.5" r="1.2"/><circle cx="242.4" cy="540.6" r="1.2"/><circle cx="239.1" cy="550.4" r="1.2"/><circle cx="205.3" cy="552.9" r="1.2"/></g>
<path d="M205.3,518.5 L208.5,517.61 L211.71,516.72 L214.91,515.82 L218.11,514.9 L221.31,513.97 L224.52,513.03 L227.72,512.07 L230.92,511.09 L234.12,510.08 L237.33,509.05 L240.53,507.98 L243.73,506.87 L246.93,505.72 L250.14,504.5 L253.34,503.22 L256.54,501.87 L259.74,500.43 L262.95,498.89 L266.15,497.26 L269.35,495.53 L272.55,493.74 L275.76,491.9 L278.96,490.02 L282.16,488.08 L285.36,486.1 L288.57,484.08 L291.77,482.02 L294.97,479.93 L298.17,477.81 L301.38,475.67 L304.58,473.5 L307.78,471.31 L310.98,469.11 L314.19,466.89 L317.39,464.65 L320.59,462.4 L323.79,460.15 L327,457.88 L330.2,455.6 L330.2,486.2 L327,487.36 L323.79,488.53 L320.59,489.7 L317.39,490.89 L314.19,492.09 L310.98,493.31 L307.78,494.54 L304.58,495.79 L301.38,497.05 L298.17,498.35 L294.97,499.66 L291.77,501.01 L288.57,502.39 L285.36,503.8 L282.16,505.26 L278.96,506.76 L275.76,508.31 L272.55,509.9 L269.35,511.56 L266.15,513.26 L262.95,515.06 L259.74,516.96 L256.54,518.96 L253.34,521.04 L250.14,523.19 L246.93,525.42 L243.73,527.7 L240.53,530.03 L237.33,532.39 L234.12,534.8 L230.92,537.23 L227.72,539.68 L224.52,542.16 L221.31,544.65 L218.11,547.16 L214.91,549.68 L211.71,552.21 L208.5,554.75 L205.3,557.3Z" fill="#c6c6c6" fill-opacity="0.35"/>
<line x1="205.3" y1="537.9" x2="330.2" y2="470.9" stroke="#2f4dae" stroke-width="1.25" />
<line x1="199.5" y1="447" x2="199.5" y2="564.4" stroke="#777" stroke-width="1.1" />
<line x1="199" y1="563.8" x2="337" y2="563.8" stroke="#7a7a7a" stroke-width="1.4" />
<line x1="197.2" y1="539.3" x2="199.5" y2="539.3" stroke="#7a7a7a" stroke-width="0.9" />
<text transform="translate(195.2,542.6) scale(1,1.12)" font-size="8.5" fill="#3a3a3a" text-anchor="end" font-weight="normal" font-style="normal" >2</text>
<line x1="197.2" y1="514.4" x2="199.5" y2="514.4" stroke="#7a7a7a" stroke-width="0.9" />
<text transform="translate(195.2,517.7) scale(1,1.12)" font-size="8.5" fill="#3a3a3a" text-anchor="end" font-weight="normal" font-style="normal" >3</text>
<line x1="197.2" y1="489.4" x2="199.5" y2="489.4" stroke="#7a7a7a" stroke-width="0.9" />
<text transform="translate(195.2,492.7) scale(1,1.12)" font-size="8.5" fill="#3a3a3a" text-anchor="end" font-weight="normal" font-style="normal" >4</text>
<line x1="197.2" y1="464.6" x2="199.5" y2="464.6" stroke="#7a7a7a" stroke-width="0.9" />
<text transform="translate(195.2,467.9) scale(1,1.12)" font-size="8.5" fill="#3a3a3a" text-anchor="end" font-weight="normal" font-style="normal" >5</text>
<line x1="200.4" y1="563.8" x2="200.4" y2="566.1" stroke="#7a7a7a" stroke-width="0.9" />
<text transform="translate(200.4,575.2) scale(1,1.12)" font-size="8.5" fill="#3a3a3a" text-anchor="middle" font-weight="normal" font-style="normal" >0</text>
<line x1="224.4" y1="563.8" x2="224.4" y2="566.1" stroke="#7a7a7a" stroke-width="0.9" />
<text transform="translate(224.4,575.2) scale(1,1.12)" font-size="8.5" fill="#3a3a3a" text-anchor="middle" font-weight="normal" font-style="normal" >1</text>
<line x1="248.4" y1="563.8" x2="248.4" y2="566.1" stroke="#7a7a7a" stroke-width="0.9" />
<text transform="translate(248.4,575.2) scale(1,1.12)" font-size="8.5" fill="#3a3a3a" text-anchor="middle" font-weight="normal" font-style="normal" >2</text>
<line x1="272.5" y1="563.8" x2="272.5" y2="566.1" stroke="#7a7a7a" stroke-width="0.9" />
<text transform="translate(272.5,575.2) scale(1,1.12)" font-size="8.5" fill="#3a3a3a" text-anchor="middle" font-weight="normal" font-style="normal" >3</text>
<line x1="296.3" y1="563.8" x2="296.3" y2="566.1" stroke="#7a7a7a" stroke-width="0.9" />
<text transform="translate(296.3,575.2) scale(1,1.12)" font-size="8.5" fill="#3a3a3a" text-anchor="middle" font-weight="normal" font-style="normal" >4</text>
<line x1="320" y1="563.8" x2="320" y2="566.1" stroke="#7a7a7a" stroke-width="0.9" />
<text transform="translate(320,575.2) scale(1,1.12)" font-size="8.5" fill="#3a3a3a" text-anchor="middle" font-weight="normal" font-style="normal" >5</text>
<text transform="translate(205.5,466.8) scale(1,1.12)" font-size="8.3" fill="#333" text-anchor="start" font-weight="normal" font-style="normal" ><tspan font-style="italic">R</tspan> = 0.62, <tspan font-style="italic">P</tspan> = 0.00071</text>
<text transform="translate(333.1,561.5) scale(1,1.12)" font-size="8.1" fill="#222" text-anchor="end" font-weight="normal" font-style="normal" >METS (<tspan font-style="italic">AR</tspan>-)</text>
<text transform="translate(267.9,589.8) scale(1,1.12)" font-size="8.7" fill="#333" text-anchor="middle" font-weight="normal" font-style="normal" ><tspan font-style="italic">AHR</tspan> log<tspan font-size="6.0" dy="2.5">2</tspan><tspan dy="-2.5">(TPM)</tspan></text>
<text transform="translate(185.2,505.8) rotate(-90)" font-size="8.8" fill="#333" text-anchor="middle"><tspan font-style="italic">PARP7</tspan> log<tspan font-size="6.1" dy="2.5">2</tspan><tspan dy="-2.5">(TPM)</tspan></text>
<g fill="#000"><circle cx="376.2" cy="463.2" r="1.2"/><circle cx="421.7" cy="456.5" r="1.2"/><circle cx="383.2" cy="477.6" r="1.2"/><circle cx="387.7" cy="482.7" r="1.2"/><circle cx="402.8" cy="472.7" r="1.2"/><circle cx="423.8" cy="470.1" r="1.2"/><circle cx="438.5" cy="470.8" r="1.2"/><circle cx="440.8" cy="474.2" r="1.2"/><circle cx="406.9" cy="485.3" r="1.2"/><circle cx="413.5" cy="486.1" r="1.2"/><circle cx="417.7" cy="485.3" r="1.2"/><circle cx="415.1" cy="489.6" r="1.2"/><circle cx="428.5" cy="481.2" r="1.2"/><circle cx="430.2" cy="488.4" r="1.2"/><circle cx="433.5" cy="486.5" r="1.2"/><circle cx="438.9" cy="482.2" r="1.2"/><circle cx="402.3" cy="493" r="1.2"/><circle cx="423.5" cy="492.7" r="1.2"/><circle cx="424" cy="493.9" r="1.2"/><circle cx="425.1" cy="497.3" r="1.2"/><circle cx="410.2" cy="498.1" r="1.2"/><circle cx="417.7" cy="496.2" r="1.2"/><circle cx="371.8" cy="509.3" r="1.2"/><circle cx="394.8" cy="504.7" r="1.2"/><circle cx="397.1" cy="505.3" r="1.2"/><circle cx="410.9" cy="507.8" r="1.2"/><circle cx="420.5" cy="504.2" r="1.2"/><circle cx="420.9" cy="508.8" r="1.2"/><circle cx="423.5" cy="508.8" r="1.2"/><circle cx="429.7" cy="503.2" r="1.2"/><circle cx="433.8" cy="501.9" r="1.2"/><circle cx="436.9" cy="509.9" r="1.2"/><circle cx="441.7" cy="498.1" r="1.2"/><circle cx="440.5" cy="508.1" r="1.2"/><circle cx="391.5" cy="518.5" r="1.2"/><circle cx="404" cy="516.1" r="1.2"/><circle cx="403.5" cy="520.7" r="1.2"/><circle cx="406.9" cy="520.1" r="1.2"/><circle cx="417.1" cy="517" r="1.2"/><circle cx="427.8" cy="517" r="1.2"/><circle cx="413.5" cy="525.5" r="1.2"/><circle cx="415.8" cy="524.7" r="1.2"/><circle cx="418.5" cy="526.2" r="1.2"/><circle cx="422.8" cy="524.2" r="1.2"/><circle cx="372.8" cy="530.4" r="1.2"/><circle cx="400.2" cy="530.1" r="1.2"/><circle cx="438.2" cy="530.1" r="1.2"/><circle cx="398.5" cy="537.6" r="1.2"/><circle cx="376.3" cy="545.6" r="1.2"/><circle cx="390.9" cy="545" r="1.2"/><circle cx="397.8" cy="545.6" r="1.2"/><circle cx="420.9" cy="541.6" r="1.2"/><circle cx="406.3" cy="547.3" r="1.2"/><circle cx="409.2" cy="551.2" r="1.2"/><circle cx="441.7" cy="543.2" r="1.2"/><circle cx="395.5" cy="553.9" r="1.2"/><circle cx="394.8" cy="558.1" r="1.2"/><circle cx="478" cy="452.4" r="1.2"/><circle cx="453.8" cy="459.9" r="1.2"/><circle cx="443.5" cy="481.5" r="1.2"/><circle cx="448.2" cy="494.5" r="1.2"/><circle cx="497.7" cy="518.5" r="1.2"/><circle cx="456.2" cy="546.2" r="1.2"/><circle cx="450.5" cy="555.2" r="1.2"/></g>
<path d="M372,505.6 L375.22,505.65 L378.45,505.68 L381.67,505.69 L384.89,505.69 L388.12,505.66 L391.34,505.59 L394.56,505.49 L397.78,505.34 L401.01,505.12 L404.23,504.82 L407.45,504.41 L410.68,503.89 L413.9,503.23 L417.12,502.44 L420.35,501.55 L423.57,500.56 L426.79,499.48 L430.02,498.33 L433.24,497.11 L436.46,495.85 L439.68,494.54 L442.91,493.2 L446.13,491.84 L449.35,490.45 L452.58,489.05 L455.8,487.63 L459.02,486.19 L462.25,484.75 L465.47,483.3 L468.69,481.84 L471.92,480.37 L475.14,478.9 L478.36,477.43 L481.58,475.95 L484.81,474.46 L488.03,472.98 L491.25,471.49 L494.48,469.99 L497.7,468.5 L497.7,509.9 L494.48,509.91 L491.25,509.92 L488.03,509.93 L484.81,509.95 L481.58,509.97 L478.36,509.99 L475.14,510.01 L471.92,510.05 L468.69,510.08 L465.47,510.13 L462.25,510.18 L459.02,510.24 L455.8,510.31 L452.58,510.39 L449.35,510.49 L446.13,510.6 L442.91,510.74 L439.68,510.9 L436.46,511.1 L433.24,511.34 L430.02,511.63 L426.79,511.98 L423.57,512.4 L420.35,512.91 L417.12,513.52 L413.9,514.24 L410.68,515.08 L407.45,516.06 L404.23,517.16 L401.01,518.36 L397.78,519.64 L394.56,520.99 L391.34,522.39 L388.12,523.83 L384.89,525.3 L381.67,526.8 L378.45,528.32 L375.22,529.85 L372,531.4Z" fill="#c6c6c6" fill-opacity="0.35"/>
<line x1="372" y1="518.5" x2="497.7" y2="489.2" stroke="#2f4dae" stroke-width="1.25" />
<line x1="366.3" y1="447" x2="366.3" y2="564.4" stroke="#777" stroke-width="1.1" />
<line x1="365.8" y1="563.8" x2="503.5" y2="563.8" stroke="#7a7a7a" stroke-width="1.4" />
<line x1="364" y1="562.5" x2="366.3" y2="562.5" stroke="#7a7a7a" stroke-width="0.9" />
<text transform="translate(362,565.8) scale(1,1.12)" font-size="8.5" fill="#3a3a3a" text-anchor="end" font-weight="normal" font-style="normal" >1</text>
<line x1="364" y1="532.7" x2="366.3" y2="532.7" stroke="#7a7a7a" stroke-width="0.9" />
<text transform="translate(362,536) scale(1,1.12)" font-size="8.5" fill="#3a3a3a" text-anchor="end" font-weight="normal" font-style="normal" >2</text>
<line x1="364" y1="503.3" x2="366.3" y2="503.3" stroke="#7a7a7a" stroke-width="0.9" />
<text transform="translate(362,506.6) scale(1,1.12)" font-size="8.5" fill="#3a3a3a" text-anchor="end" font-weight="normal" font-style="normal" >3</text>
<line x1="364" y1="473.6" x2="366.3" y2="473.6" stroke="#7a7a7a" stroke-width="0.9" />
<text transform="translate(362,476.9) scale(1,1.12)" font-size="8.5" fill="#3a3a3a" text-anchor="end" font-weight="normal" font-style="normal" >4</text>
<line x1="372.9" y1="563.8" x2="372.9" y2="566.1" stroke="#7a7a7a" stroke-width="0.9" />
<text transform="translate(372.9,575.2) scale(1,1.12)" font-size="8.5" fill="#3a3a3a" text-anchor="middle" font-weight="normal" font-style="normal" >0</text>
<line x1="414.4" y1="563.8" x2="414.4" y2="566.1" stroke="#7a7a7a" stroke-width="0.9" />
<text transform="translate(414.4,575.2) scale(1,1.12)" font-size="8.5" fill="#3a3a3a" text-anchor="middle" font-weight="normal" font-style="normal" >2</text>
<line x1="455.9" y1="563.8" x2="455.9" y2="566.1" stroke="#7a7a7a" stroke-width="0.9" />
<text transform="translate(455.9,575.2) scale(1,1.12)" font-size="8.5" fill="#3a3a3a" text-anchor="middle" font-weight="normal" font-style="normal" >4</text>
<line x1="497.4" y1="563.8" x2="497.4" y2="566.1" stroke="#7a7a7a" stroke-width="0.9" />
<text transform="translate(497.4,575.2) scale(1,1.12)" font-size="8.5" fill="#3a3a3a" text-anchor="middle" font-weight="normal" font-style="normal" >6</text>
<text transform="translate(372,463.4) scale(1,1.12)" font-size="8.3" fill="#333" text-anchor="start" font-weight="normal" font-style="normal" ><tspan font-style="italic">R</tspan> = 0.24, <tspan font-style="italic">P</tspan> = 0.042</text>
<text transform="translate(504,561.5) scale(1,1.12)" font-size="8.1" fill="#222" text-anchor="end" font-weight="normal" font-style="normal" >METS (<tspan font-style="italic">AR</tspan>+)</text>
<text transform="translate(435,589.8) scale(1,1.12)" font-size="8.7" fill="#333" text-anchor="middle" font-weight="normal" font-style="normal" ><tspan font-style="italic">AHR</tspan> log<tspan font-size="6.0" dy="2.5">2</tspan><tspan dy="-2.5">(TPM)</tspan></text>
<text transform="translate(351.2,505.8) rotate(-90)" font-size="8.8" fill="#333" text-anchor="middle"><tspan font-style="italic">PARP7</tspan> log<tspan font-size="6.1" dy="2.5">2</tspan><tspan dy="-2.5">(TPM)</tspan></text>
<text transform="translate(264.8,623.2) scale(1,1.12)" font-size="7.95" fill="#222" text-anchor="middle" font-weight="bold" font-style="normal" >HALLMARK_INTERFERON_ALPHA_RESPONSE</text>
<line x1="73.75" y1="628" x2="456" y2="628" stroke="#555" stroke-width="1.1" />
<line x1="63" y1="689.09" x2="155.5" y2="689.09" stroke="#e9e9e9" stroke-width="0.8" />
<line x1="63" y1="737.71" x2="155.5" y2="737.71" stroke="#e9e9e9" stroke-width="0.8" />
<line x1="63" y1="786.34" x2="155.5" y2="786.34" stroke="#e9e9e9" stroke-width="0.8" />
<line x1="63" y1="834.96" x2="155.5" y2="834.96" stroke="#e9e9e9" stroke-width="0.8" />
<line x1="63" y1="664.77" x2="155.5" y2="664.77" stroke="#e8e8e8" stroke-width="1.4" />
<line x1="63" y1="713.4" x2="155.5" y2="713.4" stroke="#e8e8e8" stroke-width="1.4" />
<line x1="63" y1="762.02" x2="155.5" y2="762.02" stroke="#e8e8e8" stroke-width="1.4" />
<line x1="63" y1="810.65" x2="155.5" y2="810.65" stroke="#e8e8e8" stroke-width="1.4" />
<line x1="63" y1="859.27" x2="155.5" y2="859.27" stroke="#e8e8e8" stroke-width="1.4" />
<line x1="88.2" y1="653" x2="88.2" y2="871.25" stroke="#e8e8e8" stroke-width="1.3" />
<line x1="130.5" y1="653" x2="130.5" y2="871.25" stroke="#e8e8e8" stroke-width="1.3" />
<text transform="translate(60.6,668.27) scale(1,1.12)" font-size="8.6" fill="#4d4d4d" text-anchor="end" font-weight="normal" font-style="normal" >0.25</text>
<text transform="translate(60.6,716.9) scale(1,1.12)" font-size="8.6" fill="#4d4d4d" text-anchor="end" font-weight="normal" font-style="normal" >0.00</text>
<text transform="translate(60.6,765.52) scale(1,1.12)" font-size="8.6" fill="#4d4d4d" text-anchor="end" font-weight="normal" font-style="normal" >-0.25</text>
<text transform="translate(60.6,814.15) scale(1,1.12)" font-size="8.6" fill="#4d4d4d" text-anchor="end" font-weight="normal" font-style="normal" >-0.50</text>
<text transform="translate(60.6,862.77) scale(1,1.12)" font-size="8.6" fill="#4d4d4d" text-anchor="end" font-weight="normal" font-style="normal" >-0.75</text>
<line x1="88.2" y1="663.75" x2="88.2" y2="726.8" stroke="#707070" stroke-width="1.1" />
<line x1="88.2" y1="777.5" x2="88.2" y2="846.3" stroke="#707070" stroke-width="1.1" />
<rect x="72.45" y="726.8" width="31.5" height="50.7" fill="#f4746b" stroke="#333" stroke-width="0.75"/>
<line x1="72.45" y1="748.7" x2="103.95" y2="748.7" stroke="#3a3330" stroke-width="1.5" />
<line x1="130.5" y1="727.8" x2="130.5" y2="788.2" stroke="#707070" stroke-width="1.1" />
<line x1="130.5" y1="829.7" x2="130.5" y2="861.3" stroke="#707070" stroke-width="1.1" />
<rect x="114.75" y="788.2" width="31.5" height="41.5" fill="#0fbdc4" stroke="#333" stroke-width="0.75"/>
<line x1="114.75" y1="810.1" x2="146.25" y2="810.1" stroke="#3a3330" stroke-width="1.5" />
<circle cx="130.2" cy="691.2" r="1.3" fill="#111"/>
<circle cx="130.2" cy="696.3" r="1.3" fill="#111"/>
<circle cx="130.2" cy="698.4" r="1.3" fill="#111"/>
<circle cx="130.2" cy="701.7" r="1.3" fill="#111"/>
<circle cx="130.2" cy="705" r="1.3" fill="#111"/>
<circle cx="130.2" cy="709.8" r="1.3" fill="#111"/>
<circle cx="130.2" cy="711.2" r="1.3" fill="#111"/>
<circle cx="130.2" cy="714.6" r="1.3" fill="#111"/>
<circle cx="130.2" cy="716.2" r="1.3" fill="#111"/>
<circle cx="130.2" cy="719" r="1.3" fill="#111"/>
<circle cx="130.2" cy="722.9" r="1.3" fill="#111"/>
<text transform="translate(109.25,645.4) scale(1,1.12)" font-size="8.4" fill="#111" text-anchor="middle" font-weight="bold" font-style="normal" >LUAD vs. PRAD</text>
<text transform="translate(72,663.6) scale(1,1.12)" font-size="8.35" fill="#222" text-anchor="start" font-weight="normal" font-style="normal" >Wilcoxon, <tspan font-style="italic">p</tspan> &lt; 2.2e-16</text>
<text transform="translate(87.9,883.2) scale(1,1.12)" font-size="8.65" fill="#222" text-anchor="middle" font-weight="normal" font-style="normal" >LUAD</text>
<text transform="translate(131.1,883.2) scale(1,1.12)" font-size="8.65" fill="#222" text-anchor="middle" font-weight="normal" font-style="normal" >PRAD</text>
<text transform="translate(108,895.8) scale(1,1.12)" font-size="8.65" fill="#222" text-anchor="middle" font-weight="normal" font-style="normal" >Tumor type</text>
<text transform="translate(37.6,767.9) rotate(-90)" font-size="8.5" fill="#222" text-anchor="middle">GSVA enrichment score</text>
<line x1="228.8" y1="656.67" x2="320.3" y2="656.67" stroke="#e9e9e9" stroke-width="0.8" />
<line x1="228.8" y1="705.33" x2="320.3" y2="705.33" stroke="#e9e9e9" stroke-width="0.8" />
<line x1="228.8" y1="753.99" x2="320.3" y2="753.99" stroke="#e9e9e9" stroke-width="0.8" />
<line x1="228.8" y1="802.65" x2="320.3" y2="802.65" stroke="#e9e9e9" stroke-width="0.8" />
<line x1="228.8" y1="851.31" x2="320.3" y2="851.31" stroke="#e9e9e9" stroke-width="0.8" />
<line x1="228.8" y1="681" x2="320.3" y2="681" stroke="#e8e8e8" stroke-width="1.4" />
<line x1="228.8" y1="729.66" x2="320.3" y2="729.66" stroke="#e8e8e8" stroke-width="1.4" />
<line x1="228.8" y1="778.32" x2="320.3" y2="778.32" stroke="#e8e8e8" stroke-width="1.4" />
<line x1="228.8" y1="826.98" x2="320.3" y2="826.98" stroke="#e8e8e8" stroke-width="1.4" />
<line x1="253.7" y1="653" x2="253.7" y2="871.25" stroke="#e8e8e8" stroke-width="1.3" />
<line x1="295.8" y1="653" x2="295.8" y2="871.25" stroke="#e8e8e8" stroke-width="1.3" />
<text transform="translate(226.4,684.5) scale(1,1.12)" font-size="8.6" fill="#4d4d4d" text-anchor="end" font-weight="normal" font-style="normal" >0.0</text>
<text transform="translate(226.4,733.16) scale(1,1.12)" font-size="8.6" fill="#4d4d4d" text-anchor="end" font-weight="normal" font-style="normal" >-0.2</text>
<text transform="translate(226.4,781.82) scale(1,1.12)" font-size="8.6" fill="#4d4d4d" text-anchor="end" font-weight="normal" font-style="normal" >-0.4</text>
<text transform="translate(226.4,830.48) scale(1,1.12)" font-size="8.6" fill="#4d4d4d" text-anchor="end" font-weight="normal" font-style="normal" >-0.6</text>
<line x1="253.7" y1="721" x2="253.7" y2="781.2" stroke="#707070" stroke-width="1.1" />
<line x1="253.7" y1="821.4" x2="253.7" y2="854" stroke="#707070" stroke-width="1.1" />
<rect x="237.95" y="781.2" width="31.5" height="40.2" fill="#f4746b" stroke="#333" stroke-width="0.75"/>
<line x1="237.95" y1="798.2" x2="269.45" y2="798.2" stroke="#3a3330" stroke-width="1.5" />
<circle cx="253.4" cy="662.9" r="1.3" fill="#111"/>
<circle cx="253.4" cy="678.6" r="1.3" fill="#111"/>
<circle cx="253.4" cy="682.5" r="1.3" fill="#111"/>
<circle cx="253.4" cy="693.9" r="1.3" fill="#111"/>
<line x1="295.8" y1="700.5" x2="295.8" y2="777.3" stroke="#707070" stroke-width="1.1" />
<line x1="295.8" y1="829.5" x2="295.8" y2="862.2" stroke="#707070" stroke-width="1.1" />
<rect x="280.05" y="777.3" width="31.5" height="52.2" fill="#0fbdc4" stroke="#333" stroke-width="0.75"/>
<line x1="280.05" y1="809" x2="311.55" y2="809" stroke="#3a3330" stroke-width="1.5" />
<circle cx="295.5" cy="670.4" r="1.3" fill="#111"/>
<circle cx="295.5" cy="677" r="1.3" fill="#111"/>
<circle cx="295.5" cy="678.2" r="1.3" fill="#111"/>
<circle cx="295.5" cy="688.4" r="1.3" fill="#111"/>
<circle cx="295.5" cy="693.3" r="1.3" fill="#111"/>
<text transform="translate(274.55,645.4) scale(1,1.12)" font-size="8.4" fill="#111" text-anchor="middle" font-weight="bold" font-style="normal" >PRAD</text>
<text transform="translate(239.6,663.6) scale(1,1.12)" font-size="8.35" fill="#222" text-anchor="start" font-weight="normal" font-style="normal" >Wilcoxon, <tspan font-style="italic">p</tspan> = 0.15</text>
<text transform="translate(251.2,883.2) scale(1,1.12)" font-size="8.65" fill="#222" text-anchor="middle" font-weight="normal" font-style="normal" >HIGH</text>
<text transform="translate(294.1,883.2) scale(1,1.12)" font-size="8.65" fill="#222" text-anchor="middle" font-weight="normal" font-style="normal" >LOW</text>
<text transform="translate(272.9,895.8) scale(1,1.12)" font-size="8.65" fill="#222" text-anchor="middle" font-weight="normal" font-style="normal" ><tspan font-style="italic">PARP7</tspan> Expression</text>
<text transform="translate(207,767.9) rotate(-90)" font-size="8.5" fill="#222" text-anchor="middle">GSVA enrichment score</text>
<line x1="393.2" y1="682.22" x2="485.4" y2="682.22" stroke="#e9e9e9" stroke-width="0.8" />
<line x1="393.2" y1="731.58" x2="485.4" y2="731.58" stroke="#e9e9e9" stroke-width="0.8" />
<line x1="393.2" y1="780.94" x2="485.4" y2="780.94" stroke="#e9e9e9" stroke-width="0.8" />
<line x1="393.2" y1="830.3" x2="485.4" y2="830.3" stroke="#e9e9e9" stroke-width="0.8" />
<line x1="393.2" y1="657.54" x2="485.4" y2="657.54" stroke="#e8e8e8" stroke-width="1.4" />
<line x1="393.2" y1="706.9" x2="485.4" y2="706.9" stroke="#e8e8e8" stroke-width="1.4" />
<line x1="393.2" y1="756.26" x2="485.4" y2="756.26" stroke="#e8e8e8" stroke-width="1.4" />
<line x1="393.2" y1="805.62" x2="485.4" y2="805.62" stroke="#e8e8e8" stroke-width="1.4" />
<line x1="393.2" y1="854.98" x2="485.4" y2="854.98" stroke="#e8e8e8" stroke-width="1.4" />
<line x1="418.4" y1="653" x2="418.4" y2="871.25" stroke="#e8e8e8" stroke-width="1.3" />
<line x1="461.6" y1="653" x2="461.6" y2="871.25" stroke="#e8e8e8" stroke-width="1.3" />
<text transform="translate(390.8,661.04) scale(1,1.12)" font-size="8.6" fill="#4d4d4d" text-anchor="end" font-weight="normal" font-style="normal" >0.2</text>
<text transform="translate(390.8,710.4) scale(1,1.12)" font-size="8.6" fill="#4d4d4d" text-anchor="end" font-weight="normal" font-style="normal" >0.0</text>
<text transform="translate(390.8,759.76) scale(1,1.12)" font-size="8.6" fill="#4d4d4d" text-anchor="end" font-weight="normal" font-style="normal" >-0.2</text>
<text transform="translate(390.8,809.12) scale(1,1.12)" font-size="8.6" fill="#4d4d4d" text-anchor="end" font-weight="normal" font-style="normal" >-0.4</text>
<text transform="translate(390.8,858.48) scale(1,1.12)" font-size="8.6" fill="#4d4d4d" text-anchor="end" font-weight="normal" font-style="normal" >-0.6</text>
<line x1="418.4" y1="659.5" x2="418.4" y2="717.5" stroke="#707070" stroke-width="1.1" />
<line x1="418.4" y1="769.1" x2="418.4" y2="841" stroke="#707070" stroke-width="1.1" />
<rect x="402.65" y="717.5" width="31.5" height="51.6" fill="#f4746b" stroke="#333" stroke-width="0.75"/>
<line x1="402.65" y1="743.6" x2="434.15" y2="743.6" stroke="#3a3330" stroke-width="1.5" />
<line x1="461.6" y1="676" x2="461.6" y2="744.6" stroke="#707070" stroke-width="1.1" />
<line x1="461.6" y1="803.4" x2="461.6" y2="861.6" stroke="#707070" stroke-width="1.1" />
<rect x="445.85" y="744.6" width="31.5" height="58.8" fill="#0fbdc4" stroke="#333" stroke-width="0.75"/>
<line x1="445.85" y1="777.3" x2="477.35" y2="777.3" stroke="#3a3330" stroke-width="1.5" />
<text transform="translate(439.3,645.4) scale(1,1.12)" font-size="8.4" fill="#111" text-anchor="middle" font-weight="bold" font-style="normal" >LUAD</text>
<text transform="translate(403,663.6) scale(1,1.12)" font-size="8.35" fill="#222" text-anchor="start" font-weight="normal" font-style="normal" >Wilcoxon, <tspan font-style="italic">p</tspan> = 2.9e-09</text>
<text transform="translate(420.2,883.2) scale(1,1.12)" font-size="8.65" fill="#222" text-anchor="middle" font-weight="normal" font-style="normal" >HIGH</text>
<text transform="translate(463.4,883.2) scale(1,1.12)" font-size="8.65" fill="#222" text-anchor="middle" font-weight="normal" font-style="normal" >LOW</text>
<text transform="translate(441.5,895.8) scale(1,1.12)" font-size="8.65" fill="#222" text-anchor="middle" font-weight="normal" font-style="normal" ><tspan font-style="italic">PARP7</tspan> Expression</text>
<text transform="translate(369.4,767.9) rotate(-90)" font-size="8.5" fill="#222" text-anchor="middle">GSVA enrichment score</text>
</svg>
</body></html>
